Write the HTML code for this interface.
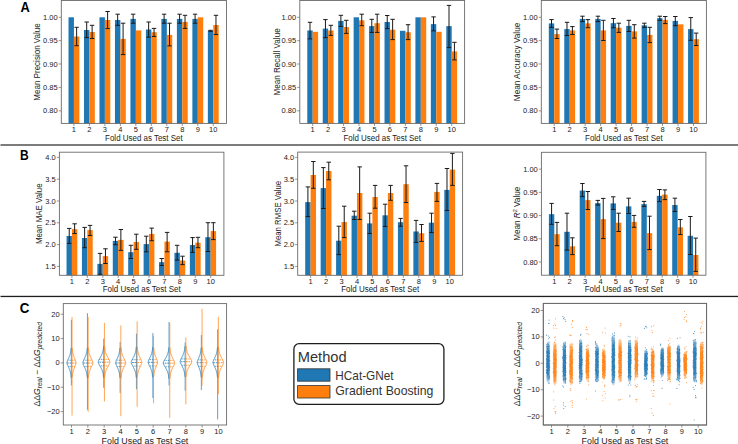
<!DOCTYPE html><html><head><meta charset="utf-8"><style>html,body{margin:0;padding:0;background:#fff;}svg{display:block;}</style></head><body>
<svg width="738" height="444" viewBox="0 0 738 444" font-family='"Liberation Sans", sans-serif' fill="#222">
<defs>
<clipPath id="clipA1"><rect x="61.3" y="0.5" width="165.2" height="122.9"/></clipPath>
<clipPath id="clipA2"><rect x="299.8" y="0.5" width="164.8" height="122.9"/></clipPath>
<clipPath id="clipA3"><rect x="541.3" y="0.5" width="165.1" height="122.9"/></clipPath>
<clipPath id="clipB1"><rect x="59.4" y="152.2" width="164.5" height="123.1"/></clipPath>
<clipPath id="clipB2"><rect x="297.7" y="152.1" width="164.9" height="123.2"/></clipPath>
<clipPath id="clipB3"><rect x="541.4" y="152.3" width="164.5" height="122.9"/></clipPath>
<clipPath id="clipC1"><rect x="63.3" y="303.6" width="163.3" height="121.4"/></clipPath>
<clipPath id="clipC3"><rect x="543.3" y="303.4" width="163.3" height="121.6"/></clipPath>
<linearGradient id="gb" x1="0" y1="0" x2="0" y2="1"><stop offset="0" stop-color="#1f77b4" stop-opacity="0.2"/><stop offset="0.1" stop-color="#1f77b4" stop-opacity="0.6"/><stop offset="0.22" stop-color="#1f77b4" stop-opacity="0.85"/><stop offset="0.78" stop-color="#1f77b4" stop-opacity="0.85"/><stop offset="0.9" stop-color="#1f77b4" stop-opacity="0.6"/><stop offset="1" stop-color="#1f77b4" stop-opacity="0.2"/></linearGradient>
<linearGradient id="go" x1="0" y1="0" x2="0" y2="1"><stop offset="0" stop-color="#ff7f0e" stop-opacity="0.2"/><stop offset="0.1" stop-color="#ff7f0e" stop-opacity="0.6"/><stop offset="0.22" stop-color="#ff7f0e" stop-opacity="0.85"/><stop offset="0.78" stop-color="#ff7f0e" stop-opacity="0.85"/><stop offset="0.9" stop-color="#ff7f0e" stop-opacity="0.6"/><stop offset="1" stop-color="#ff7f0e" stop-opacity="0.2"/></linearGradient>
</defs>
<rect width="738" height="444" fill="#fff"/>
<rect x="0.5" y="144.1" width="737.5" height="1.8" fill="#6e6e6e"/>
<rect x="0.5" y="295.8" width="737.5" height="1.3" fill="#1e1e1e"/>
<text x="20.6" y="11.9" font-size="14" font-weight="bold" fill="#000" textLength="9.3" lengthAdjust="spacingAndGlyphs">A</text>
<text x="19.9" y="160.2" font-size="14" font-weight="bold" fill="#000" textLength="8.7" lengthAdjust="spacingAndGlyphs">B</text>
<text x="19.8" y="313.4" font-size="14" font-weight="bold" fill="#000" textLength="9.6" lengthAdjust="spacingAndGlyphs">C</text>
<g clip-path="url(#clipA1)">
<rect x="68.51" y="17.3" width="5.42" height="108.1" fill="#1f77b4"/>
<rect x="73.93" y="36.5" width="5.42" height="88.9" fill="#ff7f0e"/>
<rect x="83.99" y="30" width="5.42" height="95.4" fill="#1f77b4"/>
<rect x="89.41" y="32" width="5.42" height="93.4" fill="#ff7f0e"/>
<rect x="99.47" y="17.3" width="5.42" height="108.1" fill="#1f77b4"/>
<rect x="104.89" y="20" width="5.42" height="105.4" fill="#ff7f0e"/>
<rect x="114.96" y="20" width="5.42" height="105.4" fill="#1f77b4"/>
<rect x="120.38" y="38.9" width="5.42" height="86.5" fill="#ff7f0e"/>
<rect x="130.44" y="18.9" width="5.42" height="106.5" fill="#1f77b4"/>
<rect x="135.86" y="30.4" width="5.42" height="95" fill="#ff7f0e"/>
<rect x="145.92" y="29.5" width="5.42" height="95.9" fill="#1f77b4"/>
<rect x="151.34" y="32.2" width="5.42" height="93.2" fill="#ff7f0e"/>
<rect x="161.41" y="18.9" width="5.42" height="106.5" fill="#1f77b4"/>
<rect x="166.82" y="34.9" width="5.42" height="90.5" fill="#ff7f0e"/>
<rect x="176.89" y="18.9" width="5.42" height="106.5" fill="#1f77b4"/>
<rect x="182.31" y="21.9" width="5.42" height="103.5" fill="#ff7f0e"/>
<rect x="192.37" y="18.9" width="5.42" height="106.5" fill="#1f77b4"/>
<rect x="197.79" y="17.3" width="5.42" height="108.1" fill="#ff7f0e"/>
<rect x="207.85" y="30.8" width="5.42" height="94.6" fill="#1f77b4"/>
<rect x="213.27" y="25" width="5.42" height="100.4" fill="#ff7f0e"/>
</g>
<path d="M76.64 27.3V45.7M74.44 27.3h4.4M74.44 45.7h4.4M86.7 22V37.6M84.5 22h4.4M84.5 37.6h4.4M92.12 25.3V38.5M89.92 25.3h4.4M89.92 38.5h4.4M107.6 11.5V28.6M105.4 11.5h4.4M105.4 28.6h4.4M117.67 14.2V25.4M115.47 14.2h4.4M115.47 25.4h4.4M123.09 23.2V54.6M120.89 23.2h4.4M120.89 54.6h4.4M133.15 14.2V23.2M130.95 14.2h4.4M130.95 23.2h4.4M148.63 22V37.2M146.43 22h4.4M146.43 37.2h4.4M154.05 28.4V36.5M151.85 28.4h4.4M151.85 36.5h4.4M164.11 14.2V23.2M161.91 14.2h4.4M161.91 23.2h4.4M169.53 23.2V45.9M167.33 23.2h4.4M167.33 45.9h4.4M179.6 14.2V23.2M177.4 14.2h4.4M177.4 23.2h4.4M185.02 15.3V28.4M182.82 15.3h4.4M182.82 28.4h4.4M195.08 14.2V23.2M192.88 14.2h4.4M192.88 23.2h4.4M210.56 30.3V31.3M208.36 30.3h4.4M208.36 31.3h4.4M215.98 15.3V34.5M213.78 15.3h4.4M213.78 34.5h4.4" stroke="#1a1a1a" stroke-width="1.0" fill="none"/>
<rect x="61.3" y="0.5" width="165.2" height="122.9" fill="none" stroke="#6a6a6a" stroke-width="0.9"/>
<text x="73.93" y="131.9" text-anchor="middle" font-size="7.5">1</text>
<text x="89.41" y="131.9" text-anchor="middle" font-size="7.5">2</text>
<text x="104.89" y="131.9" text-anchor="middle" font-size="7.5">3</text>
<text x="120.38" y="131.9" text-anchor="middle" font-size="7.5">4</text>
<text x="135.86" y="131.9" text-anchor="middle" font-size="7.5">5</text>
<text x="151.34" y="131.9" text-anchor="middle" font-size="7.5">6</text>
<text x="166.82" y="131.9" text-anchor="middle" font-size="7.5">7</text>
<text x="182.31" y="131.9" text-anchor="middle" font-size="7.5">8</text>
<text x="197.79" y="131.9" text-anchor="middle" font-size="7.5">9</text>
<text x="213.27" y="131.9" text-anchor="middle" font-size="7.5">10</text>
<path d="M73.93 123.4v2.6M89.41 123.4v2.6M104.89 123.4v2.6M120.38 123.4v2.6M135.86 123.4v2.6M151.34 123.4v2.6M166.82 123.4v2.6M182.31 123.4v2.6M197.79 123.4v2.6M213.27 123.4v2.6" stroke="#6a6a6a" stroke-width="0.7"/>
<text x="57.7" y="19.85" text-anchor="end" font-size="7.5">1.00</text>
<text x="57.7" y="43.2" text-anchor="end" font-size="7.5">0.95</text>
<text x="57.7" y="66.55" text-anchor="end" font-size="7.5">0.90</text>
<text x="57.7" y="89.95" text-anchor="end" font-size="7.5">0.85</text>
<text x="57.7" y="113.35" text-anchor="end" font-size="7.5">0.80</text>
<path d="M61.3 17.3h-2.6M61.3 40.65h-2.6M61.3 64h-2.6M61.3 87.4h-2.6M61.3 110.8h-2.6" stroke="#6a6a6a" stroke-width="0.7"/>
<text x="143.9" y="140.9" text-anchor="middle" font-size="8.4" textLength="77.6" lengthAdjust="spacingAndGlyphs">Fold Used as Test Set</text>
<text transform="translate(40.4 61.95) rotate(-90)" x="0" y="0" text-anchor="middle" font-size="8.4" textLength="77.5" lengthAdjust="spacingAndGlyphs">Mean Precision Value</text>
<g clip-path="url(#clipA2)">
<rect x="307.29" y="30.5" width="5.41" height="94.9" fill="#1f77b4"/>
<rect x="312.7" y="31.8" width="5.41" height="93.6" fill="#ff7f0e"/>
<rect x="322.74" y="28.6" width="5.41" height="96.8" fill="#1f77b4"/>
<rect x="328.14" y="30.5" width="5.41" height="94.9" fill="#ff7f0e"/>
<rect x="338.18" y="20.9" width="5.41" height="104.5" fill="#1f77b4"/>
<rect x="343.59" y="27" width="5.41" height="98.4" fill="#ff7f0e"/>
<rect x="353.63" y="17.3" width="5.41" height="108.1" fill="#1f77b4"/>
<rect x="359.03" y="20.3" width="5.41" height="105.1" fill="#ff7f0e"/>
<rect x="369.07" y="26.1" width="5.41" height="99.3" fill="#1f77b4"/>
<rect x="374.48" y="23.2" width="5.41" height="102.2" fill="#ff7f0e"/>
<rect x="384.52" y="22" width="5.41" height="103.4" fill="#1f77b4"/>
<rect x="389.92" y="29.7" width="5.41" height="95.7" fill="#ff7f0e"/>
<rect x="399.96" y="30.8" width="5.41" height="94.6" fill="#1f77b4"/>
<rect x="405.37" y="32.2" width="5.41" height="93.2" fill="#ff7f0e"/>
<rect x="415.41" y="17.3" width="5.41" height="108.1" fill="#1f77b4"/>
<rect x="420.81" y="17.3" width="5.41" height="108.1" fill="#ff7f0e"/>
<rect x="430.85" y="24.1" width="5.41" height="101.3" fill="#1f77b4"/>
<rect x="436.26" y="31.8" width="5.41" height="93.6" fill="#ff7f0e"/>
<rect x="446.3" y="26.1" width="5.41" height="99.3" fill="#1f77b4"/>
<rect x="451.7" y="51.4" width="5.41" height="74" fill="#ff7f0e"/>
</g>
<path d="M309.99 22.3V38.9M307.79 22.3h4.4M307.79 38.9h4.4M325.44 19.6V37.6M323.24 19.6h4.4M323.24 37.6h4.4M330.84 25.3V35.4M328.64 25.3h4.4M328.64 35.4h4.4M340.88 15.3V26.4M338.68 15.3h4.4M338.68 26.4h4.4M346.29 20.3V33.4M344.09 20.3h4.4M344.09 33.4h4.4M361.74 14.2V25.7M359.54 14.2h4.4M359.54 25.7h4.4M371.77 19.3V32.4M369.57 19.3h4.4M369.57 32.4h4.4M377.18 14.2V32.4M374.98 14.2h4.4M374.98 32.4h4.4M387.22 15.5V28.6M385.02 15.5h4.4M385.02 28.6h4.4M392.63 19.3V39.6M390.43 19.3h4.4M390.43 39.6h4.4M408.07 24.7V39.6M405.87 24.7h4.4M405.87 39.6h4.4M433.56 16.9V30.8M431.36 16.9h4.4M431.36 30.8h4.4M449 5.4V47.6M446.8 5.4h4.4M446.8 47.6h4.4M454.41 42.3V59.9M452.21 42.3h4.4M452.21 59.9h4.4" stroke="#1a1a1a" stroke-width="1.0" fill="none"/>
<rect x="299.8" y="0.5" width="164.8" height="122.9" fill="none" stroke="#6a6a6a" stroke-width="0.9"/>
<text x="312.7" y="131.9" text-anchor="middle" font-size="7.5">1</text>
<text x="328.14" y="131.9" text-anchor="middle" font-size="7.5">2</text>
<text x="343.59" y="131.9" text-anchor="middle" font-size="7.5">3</text>
<text x="359.03" y="131.9" text-anchor="middle" font-size="7.5">4</text>
<text x="374.48" y="131.9" text-anchor="middle" font-size="7.5">5</text>
<text x="389.92" y="131.9" text-anchor="middle" font-size="7.5">6</text>
<text x="405.37" y="131.9" text-anchor="middle" font-size="7.5">7</text>
<text x="420.81" y="131.9" text-anchor="middle" font-size="7.5">8</text>
<text x="436.26" y="131.9" text-anchor="middle" font-size="7.5">9</text>
<text x="451.7" y="131.9" text-anchor="middle" font-size="7.5">10</text>
<path d="M312.7 123.4v2.6M328.14 123.4v2.6M343.59 123.4v2.6M359.03 123.4v2.6M374.48 123.4v2.6M389.92 123.4v2.6M405.37 123.4v2.6M420.81 123.4v2.6M436.26 123.4v2.6M451.7 123.4v2.6" stroke="#6a6a6a" stroke-width="0.7"/>
<text x="296.2" y="19.85" text-anchor="end" font-size="7.5">1.00</text>
<text x="296.2" y="43.2" text-anchor="end" font-size="7.5">0.95</text>
<text x="296.2" y="66.55" text-anchor="end" font-size="7.5">0.90</text>
<text x="296.2" y="89.95" text-anchor="end" font-size="7.5">0.85</text>
<text x="296.2" y="113.35" text-anchor="end" font-size="7.5">0.80</text>
<path d="M299.8 17.3h-2.6M299.8 40.65h-2.6M299.8 64h-2.6M299.8 87.4h-2.6M299.8 110.8h-2.6" stroke="#6a6a6a" stroke-width="0.7"/>
<text x="382.2" y="140.9" text-anchor="middle" font-size="8.4" textLength="77.6" lengthAdjust="spacingAndGlyphs">Fold Used as Test Set</text>
<text transform="translate(279.8 61.95) rotate(-90)" x="0" y="0" text-anchor="middle" font-size="8.4" textLength="67.2" lengthAdjust="spacingAndGlyphs">Mean Recall Value</text>
<g clip-path="url(#clipA3)">
<rect x="548.8" y="23.4" width="5.42" height="102" fill="#1f77b4"/>
<rect x="554.22" y="34.1" width="5.42" height="91.3" fill="#ff7f0e"/>
<rect x="564.28" y="29.1" width="5.42" height="96.3" fill="#1f77b4"/>
<rect x="569.69" y="30.4" width="5.42" height="95" fill="#ff7f0e"/>
<rect x="579.75" y="18.9" width="5.42" height="106.5" fill="#1f77b4"/>
<rect x="585.17" y="23.4" width="5.42" height="102" fill="#ff7f0e"/>
<rect x="595.22" y="18.9" width="5.42" height="106.5" fill="#1f77b4"/>
<rect x="600.64" y="30.4" width="5.42" height="95" fill="#ff7f0e"/>
<rect x="610.7" y="23.2" width="5.42" height="102.2" fill="#1f77b4"/>
<rect x="616.11" y="27.7" width="5.42" height="97.7" fill="#ff7f0e"/>
<rect x="626.17" y="25.9" width="5.42" height="99.5" fill="#1f77b4"/>
<rect x="631.59" y="31.4" width="5.42" height="94" fill="#ff7f0e"/>
<rect x="641.64" y="25.3" width="5.42" height="100.1" fill="#1f77b4"/>
<rect x="647.06" y="34.9" width="5.42" height="90.5" fill="#ff7f0e"/>
<rect x="657.12" y="18.2" width="5.42" height="107.2" fill="#1f77b4"/>
<rect x="662.53" y="19.9" width="5.42" height="105.5" fill="#ff7f0e"/>
<rect x="672.59" y="20.9" width="5.42" height="104.5" fill="#1f77b4"/>
<rect x="678.01" y="24.3" width="5.42" height="101.1" fill="#ff7f0e"/>
<rect x="688.06" y="29.1" width="5.42" height="96.3" fill="#1f77b4"/>
<rect x="693.48" y="39.2" width="5.42" height="86.2" fill="#ff7f0e"/>
</g>
<path d="M551.51 19.6V27.4M549.31 19.6h4.4M549.31 27.4h4.4M556.93 29.1V38.5M554.73 29.1h4.4M554.73 38.5h4.4M566.99 22.3V35.5M564.79 22.3h4.4M564.79 35.5h4.4M572.4 26.6V34.5M570.2 26.6h4.4M570.2 34.5h4.4M582.46 16.2V21.6M580.26 16.2h4.4M580.26 21.6h4.4M587.87 19.6V27.7M585.67 19.6h4.4M585.67 27.7h4.4M597.93 16.2V21.6M595.73 16.2h4.4M595.73 21.6h4.4M603.35 20.3V40.5M601.15 20.3h4.4M601.15 40.5h4.4M613.41 18.5V27.7M611.21 18.5h4.4M611.21 27.7h4.4M618.82 23.2V32.4M616.62 23.2h4.4M616.62 32.4h4.4M628.88 20.3V31.5M626.68 20.3h4.4M626.68 31.5h4.4M634.29 24.7V38.1M632.09 24.7h4.4M632.09 38.1h4.4M644.35 23.2V27.4M642.15 23.2h4.4M642.15 27.4h4.4M649.77 27.3V42.6M647.57 27.3h4.4M647.57 42.6h4.4M659.83 16.2V20.3M657.63 16.2h4.4M657.63 20.3h4.4M665.24 16.5V23.6M663.04 16.5h4.4M663.04 23.6h4.4M675.3 16.5V25.7M673.1 16.5h4.4M673.1 25.7h4.4M690.77 17.6V40.3M688.57 17.6h4.4M688.57 40.3h4.4M696.19 33.1V45.5M693.99 33.1h4.4M693.99 45.5h4.4" stroke="#1a1a1a" stroke-width="1.0" fill="none"/>
<rect x="541.3" y="0.5" width="165.1" height="122.9" fill="none" stroke="#6a6a6a" stroke-width="0.9"/>
<text x="554.22" y="131.9" text-anchor="middle" font-size="7.5">1</text>
<text x="569.69" y="131.9" text-anchor="middle" font-size="7.5">2</text>
<text x="585.17" y="131.9" text-anchor="middle" font-size="7.5">3</text>
<text x="600.64" y="131.9" text-anchor="middle" font-size="7.5">4</text>
<text x="616.11" y="131.9" text-anchor="middle" font-size="7.5">5</text>
<text x="631.59" y="131.9" text-anchor="middle" font-size="7.5">6</text>
<text x="647.06" y="131.9" text-anchor="middle" font-size="7.5">7</text>
<text x="662.53" y="131.9" text-anchor="middle" font-size="7.5">8</text>
<text x="678.01" y="131.9" text-anchor="middle" font-size="7.5">9</text>
<text x="693.48" y="131.9" text-anchor="middle" font-size="7.5">10</text>
<path d="M554.22 123.4v2.6M569.69 123.4v2.6M585.17 123.4v2.6M600.64 123.4v2.6M616.11 123.4v2.6M631.59 123.4v2.6M647.06 123.4v2.6M662.53 123.4v2.6M678.01 123.4v2.6M693.48 123.4v2.6" stroke="#6a6a6a" stroke-width="0.7"/>
<text x="537.7" y="19.85" text-anchor="end" font-size="7.5">1.00</text>
<text x="537.7" y="43.2" text-anchor="end" font-size="7.5">0.95</text>
<text x="537.7" y="66.55" text-anchor="end" font-size="7.5">0.90</text>
<text x="537.7" y="89.95" text-anchor="end" font-size="7.5">0.85</text>
<text x="537.7" y="113.35" text-anchor="end" font-size="7.5">0.80</text>
<path d="M541.3 17.3h-2.6M541.3 40.65h-2.6M541.3 64h-2.6M541.3 87.4h-2.6M541.3 110.8h-2.6" stroke="#6a6a6a" stroke-width="0.7"/>
<text x="623.85" y="140.9" text-anchor="middle" font-size="8.4" textLength="77.6" lengthAdjust="spacingAndGlyphs">Fold Used as Test Set</text>
<text transform="translate(520.1 61.95) rotate(-90)" x="0" y="0" text-anchor="middle" font-size="8.4" textLength="78.4" lengthAdjust="spacingAndGlyphs">Mean Accuracy Value</text>
<g clip-path="url(#clipB1)">
<rect x="66.53" y="236" width="5.4" height="41.3" fill="#1f77b4"/>
<rect x="71.92" y="229.1" width="5.4" height="48.2" fill="#ff7f0e"/>
<rect x="81.94" y="238" width="5.4" height="39.3" fill="#1f77b4"/>
<rect x="87.34" y="230.1" width="5.4" height="47.2" fill="#ff7f0e"/>
<rect x="97.36" y="263.9" width="5.4" height="13.4" fill="#1f77b4"/>
<rect x="102.76" y="256.1" width="5.4" height="21.2" fill="#ff7f0e"/>
<rect x="112.78" y="240.9" width="5.4" height="36.4" fill="#1f77b4"/>
<rect x="118.17" y="239.9" width="5.4" height="37.4" fill="#ff7f0e"/>
<rect x="128.2" y="252.2" width="5.4" height="25.1" fill="#1f77b4"/>
<rect x="133.59" y="242" width="5.4" height="35.3" fill="#ff7f0e"/>
<rect x="143.61" y="244.1" width="5.4" height="33.2" fill="#1f77b4"/>
<rect x="149.01" y="233.9" width="5.4" height="43.4" fill="#ff7f0e"/>
<rect x="159.03" y="262.2" width="5.4" height="15.1" fill="#1f77b4"/>
<rect x="164.43" y="241.6" width="5.4" height="35.7" fill="#ff7f0e"/>
<rect x="174.45" y="252.8" width="5.4" height="24.5" fill="#1f77b4"/>
<rect x="179.84" y="260.5" width="5.4" height="16.8" fill="#ff7f0e"/>
<rect x="189.86" y="245" width="5.4" height="32.3" fill="#1f77b4"/>
<rect x="195.26" y="242.7" width="5.4" height="34.6" fill="#ff7f0e"/>
<rect x="205.28" y="237.2" width="5.4" height="40.1" fill="#1f77b4"/>
<rect x="210.68" y="231.1" width="5.4" height="46.2" fill="#ff7f0e"/>
</g>
<path d="M69.23 228.4V243.4M67.03 228.4h4.4M67.03 243.4h4.4M74.62 223.8V233.5M72.42 223.8h4.4M72.42 233.5h4.4M84.64 227.4V247.7M82.44 227.4h4.4M82.44 247.7h4.4M90.04 225.4V235.5M87.84 225.4h4.4M87.84 235.5h4.4M100.06 253.4V274.3M97.86 253.4h4.4M97.86 274.3h4.4M105.46 248.8V263.5M103.26 248.8h4.4M103.26 263.5h4.4M115.48 237.2V244.7M113.28 237.2h4.4M113.28 244.7h4.4M120.87 229.5V250.4M118.67 229.5h4.4M118.67 250.4h4.4M130.89 245.3V258.5M128.69 245.3h4.4M128.69 258.5h4.4M136.29 234.2V249.3M134.09 234.2h4.4M134.09 249.3h4.4M146.31 236.2V251.8M144.11 236.2h4.4M144.11 251.8h4.4M151.71 228.1V240.7M149.51 228.1h4.4M149.51 240.7h4.4M161.73 258.5V265.5M159.53 258.5h4.4M159.53 265.5h4.4M167.12 232.4V251.8M164.92 232.4h4.4M164.92 251.8h4.4M177.14 245.3V260.1M174.94 245.3h4.4M174.94 260.1h4.4M182.54 256.2V264.6M180.34 256.2h4.4M180.34 264.6h4.4M192.56 237.6V252.4M190.36 237.6h4.4M190.36 252.4h4.4M197.96 237.3V247.7M195.76 237.3h4.4M195.76 247.7h4.4M207.98 222.7V251.5M205.78 222.7h4.4M205.78 251.5h4.4M213.37 222.7V239.6M211.17 222.7h4.4M211.17 239.6h4.4" stroke="#1a1a1a" stroke-width="1.0" fill="none"/>
<rect x="59.4" y="152.2" width="164.5" height="123.1" fill="none" stroke="#6a6a6a" stroke-width="0.9"/>
<text x="71.92" y="283.5" text-anchor="middle" font-size="7.5">1</text>
<text x="87.34" y="283.5" text-anchor="middle" font-size="7.5">2</text>
<text x="102.76" y="283.5" text-anchor="middle" font-size="7.5">3</text>
<text x="118.17" y="283.5" text-anchor="middle" font-size="7.5">4</text>
<text x="133.59" y="283.5" text-anchor="middle" font-size="7.5">5</text>
<text x="149.01" y="283.5" text-anchor="middle" font-size="7.5">6</text>
<text x="164.43" y="283.5" text-anchor="middle" font-size="7.5">7</text>
<text x="179.84" y="283.5" text-anchor="middle" font-size="7.5">8</text>
<text x="195.26" y="283.5" text-anchor="middle" font-size="7.5">9</text>
<text x="210.68" y="283.5" text-anchor="middle" font-size="7.5">10</text>
<path d="M71.92 275.3v2.6M87.34 275.3v2.6M102.76 275.3v2.6M118.17 275.3v2.6M133.59 275.3v2.6M149.01 275.3v2.6M164.43 275.3v2.6M179.84 275.3v2.6M195.26 275.3v2.6M210.68 275.3v2.6" stroke="#6a6a6a" stroke-width="0.7"/>
<text x="55.8" y="159.95" text-anchor="end" font-size="7.5">4.0</text>
<text x="55.8" y="181.75" text-anchor="end" font-size="7.5">3.5</text>
<text x="55.8" y="203.55" text-anchor="end" font-size="7.5">3.0</text>
<text x="55.8" y="225.35" text-anchor="end" font-size="7.5">2.5</text>
<text x="55.8" y="247.15" text-anchor="end" font-size="7.5">2.0</text>
<text x="55.8" y="268.95" text-anchor="end" font-size="7.5">1.5</text>
<path d="M59.4 157.4h-2.6M59.4 179.2h-2.6M59.4 201h-2.6M59.4 222.8h-2.6M59.4 244.6h-2.6M59.4 266.4h-2.6" stroke="#6a6a6a" stroke-width="0.7"/>
<text x="141.65" y="292.3" text-anchor="middle" font-size="8.4" textLength="78" lengthAdjust="spacingAndGlyphs">Fold Used as Test Set</text>
<g clip-path="url(#clipB2)">
<rect x="305.2" y="202.1" width="5.41" height="75.2" fill="#1f77b4"/>
<rect x="310.6" y="175" width="5.41" height="102.3" fill="#ff7f0e"/>
<rect x="320.65" y="188.1" width="5.41" height="89.2" fill="#1f77b4"/>
<rect x="326.06" y="171" width="5.41" height="106.3" fill="#ff7f0e"/>
<rect x="336.1" y="240.7" width="5.41" height="36.6" fill="#1f77b4"/>
<rect x="341.51" y="222" width="5.41" height="55.3" fill="#ff7f0e"/>
<rect x="351.56" y="215.7" width="5.41" height="61.6" fill="#1f77b4"/>
<rect x="356.97" y="193" width="5.41" height="84.3" fill="#ff7f0e"/>
<rect x="367.01" y="223.4" width="5.41" height="53.9" fill="#1f77b4"/>
<rect x="372.42" y="197" width="5.41" height="80.3" fill="#ff7f0e"/>
<rect x="382.47" y="215.3" width="5.41" height="62" fill="#1f77b4"/>
<rect x="387.88" y="193" width="5.41" height="84.3" fill="#ff7f0e"/>
<rect x="397.92" y="222.2" width="5.41" height="55.1" fill="#1f77b4"/>
<rect x="403.33" y="184.2" width="5.41" height="93.1" fill="#ff7f0e"/>
<rect x="413.38" y="231.5" width="5.41" height="45.8" fill="#1f77b4"/>
<rect x="418.79" y="233.2" width="5.41" height="44.1" fill="#ff7f0e"/>
<rect x="428.83" y="222.7" width="5.41" height="54.6" fill="#1f77b4"/>
<rect x="434.24" y="191.9" width="5.41" height="85.4" fill="#ff7f0e"/>
<rect x="444.29" y="189.9" width="5.41" height="87.4" fill="#1f77b4"/>
<rect x="449.7" y="169.6" width="5.41" height="107.7" fill="#ff7f0e"/>
</g>
<path d="M307.9 186.9V216.6M305.7 186.9h4.4M305.7 216.6h4.4M313.31 161.5V188.3M311.11 161.5h4.4M311.11 188.3h4.4M323.35 167.6V208.5M321.15 167.6h4.4M321.15 208.5h4.4M328.76 162.2V179.8M326.56 162.2h4.4M326.56 179.8h4.4M338.81 226.2V254.6M336.61 226.2h4.4M336.61 254.6h4.4M344.22 206.2V237.6M342.02 206.2h4.4M342.02 237.6h4.4M354.26 211.2V219.5M352.06 211.2h4.4M352.06 219.5h4.4M359.67 166.9V219.5M357.47 166.9h4.4M357.47 219.5h4.4M369.72 213.2V233.5M367.52 213.2h4.4M367.52 233.5h4.4M375.13 185.4V208.2M372.93 185.4h4.4M372.93 208.2h4.4M385.17 204.2V226.5M382.97 204.2h4.4M382.97 226.5h4.4M390.58 185.4V200.3M388.38 185.4h4.4M388.38 200.3h4.4M400.63 218.4V226.2M398.43 218.4h4.4M398.43 226.2h4.4M406.04 165.8V202.5M403.84 165.8h4.4M403.84 202.5h4.4M416.08 220.4V242.4M413.88 220.4h4.4M413.88 242.4h4.4M421.49 224.5V241.4M419.29 224.5h4.4M419.29 241.4h4.4M431.54 213.2V232.6M429.34 213.2h4.4M429.34 232.6h4.4M436.95 183.4V201.4M434.75 183.4h4.4M434.75 201.4h4.4M446.99 168.5V210.5M444.79 168.5h4.4M444.79 210.5h4.4M452.4 153.4V185.4M450.2 153.4h4.4M450.2 185.4h4.4" stroke="#1a1a1a" stroke-width="1.0" fill="none"/>
<rect x="297.7" y="152.1" width="164.9" height="123.2" fill="none" stroke="#6a6a6a" stroke-width="0.9"/>
<text x="310.6" y="283.5" text-anchor="middle" font-size="7.5">1</text>
<text x="326.06" y="283.5" text-anchor="middle" font-size="7.5">2</text>
<text x="341.51" y="283.5" text-anchor="middle" font-size="7.5">3</text>
<text x="356.97" y="283.5" text-anchor="middle" font-size="7.5">4</text>
<text x="372.42" y="283.5" text-anchor="middle" font-size="7.5">5</text>
<text x="387.88" y="283.5" text-anchor="middle" font-size="7.5">6</text>
<text x="403.33" y="283.5" text-anchor="middle" font-size="7.5">7</text>
<text x="418.79" y="283.5" text-anchor="middle" font-size="7.5">8</text>
<text x="434.24" y="283.5" text-anchor="middle" font-size="7.5">9</text>
<text x="449.7" y="283.5" text-anchor="middle" font-size="7.5">10</text>
<path d="M310.6 275.3v2.6M326.06 275.3v2.6M341.51 275.3v2.6M356.97 275.3v2.6M372.42 275.3v2.6M387.88 275.3v2.6M403.33 275.3v2.6M418.79 275.3v2.6M434.24 275.3v2.6M449.7 275.3v2.6" stroke="#6a6a6a" stroke-width="0.7"/>
<text x="294.1" y="159.95" text-anchor="end" font-size="7.5">4.0</text>
<text x="294.1" y="181.75" text-anchor="end" font-size="7.5">3.5</text>
<text x="294.1" y="203.55" text-anchor="end" font-size="7.5">3.0</text>
<text x="294.1" y="225.35" text-anchor="end" font-size="7.5">2.5</text>
<text x="294.1" y="247.15" text-anchor="end" font-size="7.5">2.0</text>
<text x="294.1" y="268.95" text-anchor="end" font-size="7.5">1.5</text>
<path d="M297.7 157.4h-2.6M297.7 179.2h-2.6M297.7 201h-2.6M297.7 222.8h-2.6M297.7 244.6h-2.6M297.7 266.4h-2.6" stroke="#6a6a6a" stroke-width="0.7"/>
<text x="380.15" y="292.3" text-anchor="middle" font-size="8.4" textLength="78" lengthAdjust="spacingAndGlyphs">Fold Used as Test Set</text>
<g clip-path="url(#clipB3)">
<rect x="548.88" y="214.2" width="5.4" height="63" fill="#1f77b4"/>
<rect x="554.27" y="234.2" width="5.4" height="43" fill="#ff7f0e"/>
<rect x="564.29" y="231.8" width="5.4" height="45.4" fill="#1f77b4"/>
<rect x="569.69" y="246.3" width="5.4" height="30.9" fill="#ff7f0e"/>
<rect x="579.71" y="190.6" width="5.4" height="86.6" fill="#1f77b4"/>
<rect x="585.11" y="200.1" width="5.4" height="77.1" fill="#ff7f0e"/>
<rect x="595.13" y="203.1" width="5.4" height="74.1" fill="#1f77b4"/>
<rect x="600.52" y="219.1" width="5.4" height="58.1" fill="#ff7f0e"/>
<rect x="610.55" y="203.4" width="5.4" height="73.8" fill="#1f77b4"/>
<rect x="615.94" y="222.7" width="5.4" height="54.5" fill="#ff7f0e"/>
<rect x="625.96" y="206.4" width="5.4" height="70.8" fill="#1f77b4"/>
<rect x="631.36" y="221.9" width="5.4" height="55.3" fill="#ff7f0e"/>
<rect x="641.38" y="204.1" width="5.4" height="73.1" fill="#1f77b4"/>
<rect x="646.78" y="233.1" width="5.4" height="44.1" fill="#ff7f0e"/>
<rect x="656.8" y="195.8" width="5.4" height="81.4" fill="#1f77b4"/>
<rect x="662.19" y="194.6" width="5.4" height="82.6" fill="#ff7f0e"/>
<rect x="672.21" y="205" width="5.4" height="72.2" fill="#1f77b4"/>
<rect x="677.61" y="227.3" width="5.4" height="49.9" fill="#ff7f0e"/>
<rect x="687.63" y="235.8" width="5.4" height="41.4" fill="#1f77b4"/>
<rect x="693.03" y="255" width="5.4" height="22.2" fill="#ff7f0e"/>
</g>
<path d="M551.58 203.4V224.3M549.38 203.4h4.4M549.38 224.3h4.4M556.97 222.4V245.7M554.77 222.4h4.4M554.77 245.7h4.4M566.99 213.2V250.1M564.79 213.2h4.4M564.79 250.1h4.4M572.39 237.8V254.6M570.19 237.8h4.4M570.19 254.6h4.4M582.41 183.5V196.6M580.21 183.5h4.4M580.21 196.6h4.4M587.81 191.5V209.5M585.61 191.5h4.4M585.61 209.5h4.4M597.83 200.4V205.1M595.63 200.4h4.4M595.63 205.1h4.4M603.22 198.4V238.6M601.02 198.4h4.4M601.02 238.6h4.4M613.24 196.8V209.5M611.04 196.8h4.4M611.04 209.5h4.4M618.64 213.2V231.5M616.44 213.2h4.4M616.44 231.5h4.4M628.66 198.2V213.5M626.46 198.2h4.4M626.46 213.5h4.4M634.06 215.4V227.3M631.86 215.4h4.4M631.86 227.3h4.4M644.08 201.4V206.4M641.88 201.4h4.4M641.88 206.4h4.4M649.47 216.2V249.6M647.27 216.2h4.4M647.27 249.6h4.4M659.49 189.5V201.6M657.29 189.5h4.4M657.29 201.6h4.4M664.89 189.9V199.6M662.69 189.9h4.4M662.69 199.6h4.4M674.91 198.2V211.5M672.71 198.2h4.4M672.71 211.5h4.4M680.31 219.5V234.5M678.11 219.5h4.4M678.11 234.5h4.4M690.33 216.5V254.5M688.13 216.5h4.4M688.13 254.5h4.4M695.72 238.1V271.4M693.52 238.1h4.4M693.52 271.4h4.4" stroke="#1a1a1a" stroke-width="1.0" fill="none"/>
<rect x="541.4" y="152.3" width="164.5" height="122.9" fill="none" stroke="#6a6a6a" stroke-width="0.9"/>
<text x="554.27" y="283.5" text-anchor="middle" font-size="7.5">1</text>
<text x="569.69" y="283.5" text-anchor="middle" font-size="7.5">2</text>
<text x="585.11" y="283.5" text-anchor="middle" font-size="7.5">3</text>
<text x="600.52" y="283.5" text-anchor="middle" font-size="7.5">4</text>
<text x="615.94" y="283.5" text-anchor="middle" font-size="7.5">5</text>
<text x="631.36" y="283.5" text-anchor="middle" font-size="7.5">6</text>
<text x="646.78" y="283.5" text-anchor="middle" font-size="7.5">7</text>
<text x="662.19" y="283.5" text-anchor="middle" font-size="7.5">8</text>
<text x="677.61" y="283.5" text-anchor="middle" font-size="7.5">9</text>
<text x="693.03" y="283.5" text-anchor="middle" font-size="7.5">10</text>
<path d="M554.27 275.2v2.6M569.69 275.2v2.6M585.11 275.2v2.6M600.52 275.2v2.6M615.94 275.2v2.6M631.36 275.2v2.6M646.78 275.2v2.6M662.19 275.2v2.6M677.61 275.2v2.6M693.03 275.2v2.6" stroke="#6a6a6a" stroke-width="0.7"/>
<text x="537.8" y="171.75" text-anchor="end" font-size="7.5">1.00</text>
<text x="537.8" y="194.95" text-anchor="end" font-size="7.5">0.95</text>
<text x="537.8" y="218.15" text-anchor="end" font-size="7.5">0.90</text>
<text x="537.8" y="241.35" text-anchor="end" font-size="7.5">0.85</text>
<text x="537.8" y="264.55" text-anchor="end" font-size="7.5">0.80</text>
<path d="M541.4 169.2h-2.6M541.4 192.4h-2.6M541.4 215.6h-2.6M541.4 238.8h-2.6M541.4 262h-2.6" stroke="#6a6a6a" stroke-width="0.7"/>
<text x="623.65" y="292.3" text-anchor="middle" font-size="8.4" textLength="78" lengthAdjust="spacingAndGlyphs">Fold Used as Test Set</text>
<text transform="translate(42.4 213.75) rotate(-90)" x="0" y="0" text-anchor="middle" font-size="8.4" textLength="60.6" lengthAdjust="spacingAndGlyphs">Mean MAE Value</text>
<text transform="translate(280.9 213.7) rotate(-90)" x="0" y="0" text-anchor="middle" font-size="8.4" textLength="65.8" lengthAdjust="spacingAndGlyphs">Mean RMSE Value</text>
<text transform="translate(520.4 213.75) rotate(-90)" text-anchor="middle" font-size="8.4" textLength="54" lengthAdjust="spacingAndGlyphs">Mean <tspan font-style="italic">R</tspan><tspan font-size="5.6" dy="-3">2</tspan><tspan dy="3"> Value</tspan></text>
<rect x="63.3" y="303.6" width="163.3" height="121.4" fill="none" stroke="#6a6a6a" stroke-width="0.9"/>
<text x="71.5" y="433.8" text-anchor="middle" font-size="7.5">1</text>
<text x="87.83" y="433.8" text-anchor="middle" font-size="7.5">2</text>
<text x="104.16" y="433.8" text-anchor="middle" font-size="7.5">3</text>
<text x="120.49" y="433.8" text-anchor="middle" font-size="7.5">4</text>
<text x="136.82" y="433.8" text-anchor="middle" font-size="7.5">5</text>
<text x="153.15" y="433.8" text-anchor="middle" font-size="7.5">6</text>
<text x="169.48" y="433.8" text-anchor="middle" font-size="7.5">7</text>
<text x="185.81" y="433.8" text-anchor="middle" font-size="7.5">8</text>
<text x="202.14" y="433.8" text-anchor="middle" font-size="7.5">9</text>
<text x="218.47" y="433.8" text-anchor="middle" font-size="7.5">10</text>
<path d="M71.5 425v2.6M87.83 425v2.6M104.16 425v2.6M120.49 425v2.6M136.82 425v2.6M153.15 425v2.6M169.48 425v2.6M185.81 425v2.6M202.14 425v2.6M218.47 425v2.6" stroke="#6a6a6a" stroke-width="0.7"/>
<text x="59.7" y="316.75" text-anchor="end" font-size="7.5">20</text>
<text x="59.7" y="341.1" text-anchor="end" font-size="7.5">10</text>
<text x="59.7" y="365.45" text-anchor="end" font-size="7.5">0</text>
<text x="59.7" y="389.8" text-anchor="end" font-size="7.5">−10</text>
<text x="59.7" y="414.15" text-anchor="end" font-size="7.5">−20</text>
<path d="M63.3 314.2h-2.6M63.3 338.55h-2.6M63.3 362.9h-2.6M63.3 387.25h-2.6M63.3 411.6h-2.6" stroke="#6a6a6a" stroke-width="0.7"/>
<text x="144.95" y="443.9" text-anchor="middle" font-size="8.9" textLength="86.7" lengthAdjust="spacingAndGlyphs">Fold Used as Test Set</text>
<path d="M71.35 348.01L71.15 348.01L71.12 348.38L71.09 348.75L71.06 349.12L71.03 349.49L70.99 349.86L70.94 350.23L70.9 350.6L70.84 350.97L70.79 351.34L70.72 351.71L70.66 352.08L70.58 352.45L70.5 352.82L70.42 353.19L70.32 353.56L70.22 353.93L70.12 354.3L70.01 354.67L69.89 355.04L69.76 355.41L69.63 355.78L69.49 356.15L69.34 356.52L69.19 356.89L69.03 357.26L68.87 357.63L68.71 357.99L68.54 358.36L68.37 358.73L68.2 359.1L68.03 359.47L67.87 359.84L67.7 360.21L67.55 360.58L67.4 360.95L67.27 361.32L67.15 361.69L67.05 362.06L66.98 362.43L66.94 362.8L66.98 363.17L67.05 363.54L67.15 363.91L67.27 364.28L67.4 364.65L67.55 365.02L67.7 365.39L67.87 365.76L68.03 366.13L68.2 366.5L68.37 366.87L68.54 367.24L68.71 367.61L68.87 367.97L69.03 368.34L69.19 368.71L69.34 369.08L69.49 369.45L69.63 369.82L69.76 370.19L69.89 370.56L70.01 370.93L70.12 371.3L70.22 371.67L70.32 372.04L70.42 372.41L70.5 372.78L70.58 373.15L70.66 373.52L70.72 373.89L70.79 374.26L70.84 374.63L70.9 375L70.94 375.37L70.99 375.74L71.03 376.11L71.06 376.48L71.09 376.85L71.12 377.22L71.15 377.59L71.35 377.59" fill="none" stroke="#1f77b4" stroke-width="0.8" stroke-linejoin="round"/>
<path d="M71.35 319.9V385.4" stroke="#1f77b4" stroke-width="0.7"/>
<path d="M71.35 360.2H67.71" stroke="#1f77b4" stroke-width="0.8" stroke-dasharray="1 0.8"/>
<path d="M71.35 363H66.95" stroke="#1f77b4" stroke-width="0.8" stroke-dasharray="1.8 0.8"/>
<path d="M71.35 366.6H68.25" stroke="#1f77b4" stroke-width="0.8" stroke-dasharray="1 0.8"/>
<path d="M72.05 348.34L72.25 348.34L72.28 348.7L72.3 349.06L72.33 349.42L72.37 349.78L72.41 350.15L72.45 350.51L72.49 350.87L72.54 351.23L72.59 351.59L72.65 351.95L72.71 352.32L72.78 352.68L72.86 353.04L72.93 353.4L73.02 353.76L73.11 354.12L73.21 354.48L73.31 354.85L73.42 355.21L73.53 355.57L73.65 355.93L73.77 356.29L73.9 356.65L74.04 357.02L74.18 357.38L74.32 357.74L74.47 358.1L74.61 358.46L74.76 358.82L74.91 359.18L75.06 359.55L75.2 359.91L75.35 360.27L75.48 360.63L75.61 360.99L75.72 361.35L75.83 361.72L75.91 362.08L75.98 362.44L76.01 362.8L75.98 363.16L75.91 363.52L75.83 363.88L75.72 364.25L75.61 364.61L75.48 364.97L75.35 365.33L75.2 365.69L75.06 366.05L74.91 366.42L74.76 366.78L74.61 367.14L74.47 367.5L74.32 367.86L74.18 368.22L74.04 368.58L73.9 368.95L73.77 369.31L73.65 369.67L73.53 370.03L73.42 370.39L73.31 370.75L73.21 371.12L73.11 371.48L73.02 371.84L72.93 372.2L72.86 372.56L72.78 372.92L72.71 373.28L72.65 373.65L72.59 374.01L72.54 374.37L72.49 374.73L72.45 375.09L72.41 375.45L72.37 375.82L72.33 376.18L72.3 376.54L72.28 376.9L72.25 377.26L72.05 377.26" fill="none" stroke="#ff7f0e" stroke-width="0.8" stroke-linejoin="round"/>
<path d="M72.05 317V415.6" stroke="#ff7f0e" stroke-width="0.7"/>
<path d="M72.05 360.2H75.32" stroke="#ff7f0e" stroke-width="0.8" stroke-dasharray="1 0.8"/>
<path d="M72.05 363H76" stroke="#ff7f0e" stroke-width="0.8" stroke-dasharray="1.8 0.8"/>
<path d="M72.05 366.6H74.84" stroke="#ff7f0e" stroke-width="0.8" stroke-dasharray="1 0.8"/>
<path d="M87.45 347.9L87.25 347.9L87.22 348.27L87.19 348.64L87.16 349.01L87.12 349.39L87.08 349.76L87.04 350.13L86.99 350.5L86.94 350.88L86.88 351.25L86.81 351.62L86.74 351.99L86.67 352.37L86.59 352.74L86.5 353.11L86.4 353.48L86.3 353.86L86.19 354.23L86.07 354.6L85.95 354.97L85.82 355.35L85.68 355.72L85.53 356.09L85.38 356.47L85.22 356.84L85.06 357.21L84.89 357.58L84.72 357.96L84.54 358.33L84.36 358.7L84.19 359.07L84.01 359.45L83.83 359.82L83.66 360.19L83.5 360.56L83.35 360.94L83.21 361.31L83.08 361.68L82.98 362.05L82.9 362.43L82.86 362.8L82.9 363.17L82.98 363.55L83.08 363.92L83.21 364.29L83.35 364.66L83.5 365.04L83.66 365.41L83.83 365.78L84.01 366.15L84.19 366.53L84.36 366.9L84.54 367.27L84.72 367.64L84.89 368.02L85.06 368.39L85.22 368.76L85.38 369.13L85.53 369.51L85.68 369.88L85.82 370.25L85.95 370.63L86.07 371L86.19 371.37L86.3 371.74L86.4 372.12L86.5 372.49L86.59 372.86L86.67 373.23L86.74 373.61L86.81 373.98L86.88 374.35L86.94 374.72L86.99 375.1L87.04 375.47L87.08 375.84L87.12 376.21L87.16 376.59L87.19 376.96L87.22 377.33L87.25 377.7L87.45 377.7" fill="none" stroke="#1f77b4" stroke-width="0.8" stroke-linejoin="round"/>
<path d="M87.45 313.2V409.7" stroke="#1f77b4" stroke-width="0.7"/>
<path d="M87.45 360.2H83.66" stroke="#1f77b4" stroke-width="0.8" stroke-dasharray="1 0.8"/>
<path d="M87.45 363H82.87" stroke="#1f77b4" stroke-width="0.8" stroke-dasharray="1.8 0.8"/>
<path d="M87.45 366.6H84.22" stroke="#1f77b4" stroke-width="0.8" stroke-dasharray="1 0.8"/>
<path d="M88.15 347.78L88.35 347.78L88.38 348.16L88.41 348.53L88.44 348.91L88.48 349.28L88.52 349.66L88.56 350.03L88.61 350.41L88.67 350.78L88.73 351.16L88.79 351.54L88.87 351.91L88.94 352.29L89.03 352.66L89.12 353.04L89.22 353.41L89.33 353.79L89.44 354.16L89.56 354.54L89.69 354.92L89.83 355.29L89.97 355.67L90.12 356.04L90.28 356.42L90.44 356.79L90.61 357.17L90.79 357.54L90.97 357.92L91.16 358.29L91.34 358.67L91.53 359.05L91.71 359.42L91.9 359.8L92.07 360.17L92.25 360.55L92.41 360.92L92.55 361.3L92.69 361.67L92.8 362.05L92.88 362.42L92.92 362.8L92.88 363.18L92.8 363.55L92.69 363.93L92.55 364.3L92.41 364.68L92.25 365.05L92.07 365.43L91.9 365.8L91.71 366.18L91.53 366.55L91.34 366.93L91.16 367.31L90.97 367.68L90.79 368.06L90.61 368.43L90.44 368.81L90.28 369.18L90.12 369.56L89.97 369.93L89.83 370.31L89.69 370.68L89.56 371.06L89.44 371.44L89.33 371.81L89.22 372.19L89.12 372.56L89.03 372.94L88.94 373.31L88.87 373.69L88.79 374.06L88.73 374.44L88.67 374.82L88.61 375.19L88.56 375.57L88.52 375.94L88.48 376.32L88.44 376.69L88.41 377.07L88.38 377.44L88.35 377.82L88.15 377.82" fill="none" stroke="#ff7f0e" stroke-width="0.8" stroke-linejoin="round"/>
<path d="M88.15 317V411.8" stroke="#ff7f0e" stroke-width="0.7"/>
<path d="M88.15 360.2H92.09" stroke="#ff7f0e" stroke-width="0.8" stroke-dasharray="1 0.8"/>
<path d="M88.15 363H92.9" stroke="#ff7f0e" stroke-width="0.8" stroke-dasharray="1.8 0.8"/>
<path d="M88.15 366.6H91.51" stroke="#ff7f0e" stroke-width="0.8" stroke-dasharray="1 0.8"/>
<path d="M103.75 346.57L103.55 346.57L103.52 346.95L103.49 347.34L103.46 347.73L103.42 348.11L103.37 348.5L103.32 348.88L103.27 349.27L103.21 349.65L103.14 350.04L103.07 350.43L102.99 350.81L102.91 351.2L102.81 351.58L102.71 351.97L102.6 352.36L102.48 352.74L102.35 353.13L102.21 353.51L102.07 353.9L101.91 354.28L101.74 354.67L101.57 355.06L101.39 355.44L101.19 355.83L101 356.21L100.79 356.6L100.58 356.98L100.36 357.37L100.14 357.76L99.92 358.14L99.7 358.53L99.48 358.91L99.27 359.3L99.07 359.69L98.88 360.07L98.7 360.46L98.54 360.84L98.41 361.23L98.31 361.61L98.26 362L98.31 362.39L98.41 362.77L98.54 363.16L98.7 363.54L98.88 363.93L99.07 364.31L99.27 364.7L99.48 365.09L99.7 365.47L99.92 365.86L100.14 366.24L100.36 366.63L100.58 367.02L100.79 367.4L101 367.79L101.19 368.17L101.39 368.56L101.57 368.94L101.74 369.33L101.91 369.72L102.07 370.1L102.21 370.49L102.35 370.87L102.48 371.26L102.6 371.64L102.71 372.03L102.81 372.42L102.91 372.8L102.99 373.19L103.07 373.57L103.14 373.96L103.21 374.35L103.27 374.73L103.32 375.12L103.37 375.5L103.42 375.89L103.46 376.27L103.49 376.66L103.52 377.05L103.55 377.43L103.75 377.43" fill="none" stroke="#1f77b4" stroke-width="0.8" stroke-linejoin="round"/>
<path d="M103.75 338.6V387.8" stroke="#1f77b4" stroke-width="0.7"/>
<path d="M103.75 359.4H99.22" stroke="#1f77b4" stroke-width="0.8" stroke-dasharray="1 0.8"/>
<path d="M103.75 362.2H98.28" stroke="#1f77b4" stroke-width="0.8" stroke-dasharray="1.8 0.8"/>
<path d="M103.75 365.8H99.89" stroke="#1f77b4" stroke-width="0.8" stroke-dasharray="1 0.8"/>
<path d="M104.45 346.57L104.65 346.57L104.68 346.95L104.71 347.34L104.74 347.73L104.78 348.11L104.83 348.5L104.88 348.88L104.93 349.27L104.99 349.65L105.06 350.04L105.13 350.43L105.21 350.81L105.29 351.2L105.39 351.58L105.49 351.97L105.6 352.36L105.72 352.74L105.85 353.13L105.99 353.51L106.13 353.9L106.29 354.28L106.46 354.67L106.63 355.06L106.81 355.44L107.01 355.83L107.2 356.21L107.41 356.6L107.62 356.98L107.84 357.37L108.06 357.76L108.28 358.14L108.5 358.53L108.72 358.91L108.93 359.3L109.13 359.69L109.32 360.07L109.5 360.46L109.66 360.84L109.79 361.23L109.89 361.61L109.94 362L109.89 362.39L109.79 362.77L109.66 363.16L109.5 363.54L109.32 363.93L109.13 364.31L108.93 364.7L108.72 365.09L108.5 365.47L108.28 365.86L108.06 366.24L107.84 366.63L107.62 367.02L107.41 367.4L107.2 367.79L107.01 368.17L106.81 368.56L106.63 368.94L106.46 369.33L106.29 369.72L106.13 370.1L105.99 370.49L105.85 370.87L105.72 371.26L105.6 371.64L105.49 372.03L105.39 372.42L105.29 372.8L105.21 373.19L105.13 373.57L105.06 373.96L104.99 374.35L104.93 374.73L104.88 375.12L104.83 375.5L104.78 375.89L104.74 376.27L104.71 376.66L104.68 377.05L104.65 377.43L104.45 377.43" fill="none" stroke="#ff7f0e" stroke-width="0.8" stroke-linejoin="round"/>
<path d="M104.45 322.8V401.5" stroke="#ff7f0e" stroke-width="0.7"/>
<path d="M104.45 359.4H108.98" stroke="#ff7f0e" stroke-width="0.8" stroke-dasharray="1 0.8"/>
<path d="M104.45 362.2H109.92" stroke="#ff7f0e" stroke-width="0.8" stroke-dasharray="1.8 0.8"/>
<path d="M104.45 365.8H108.31" stroke="#ff7f0e" stroke-width="0.8" stroke-dasharray="1 0.8"/>
<path d="M120.15 347.95L119.95 347.95L119.92 348.33L119.89 348.7L119.86 349.07L119.83 349.44L119.79 349.81L119.74 350.18L119.69 350.55L119.64 350.92L119.58 351.29L119.52 351.67L119.45 352.04L119.38 352.41L119.29 352.78L119.21 353.15L119.11 353.52L119.01 353.89L118.9 354.26L118.79 354.63L118.67 355.01L118.54 355.38L118.4 355.75L118.26 356.12L118.11 356.49L117.96 356.86L117.8 357.23L117.63 357.6L117.46 357.98L117.29 358.35L117.12 358.72L116.94 359.09L116.77 359.46L116.6 359.83L116.43 360.2L116.28 360.57L116.13 360.94L115.99 361.32L115.87 361.69L115.76 362.06L115.69 362.43L115.65 362.8L115.69 363.17L115.76 363.54L115.87 363.91L115.99 364.28L116.13 364.66L116.28 365.03L116.43 365.4L116.6 365.77L116.77 366.14L116.94 366.51L117.12 366.88L117.29 367.25L117.46 367.62L117.63 368L117.8 368.37L117.96 368.74L118.11 369.11L118.26 369.48L118.4 369.85L118.54 370.22L118.67 370.59L118.79 370.97L118.9 371.34L119.01 371.71L119.11 372.08L119.21 372.45L119.29 372.82L119.38 373.19L119.45 373.56L119.52 373.93L119.58 374.31L119.64 374.68L119.69 375.05L119.74 375.42L119.79 375.79L119.83 376.16L119.86 376.53L119.89 376.9L119.92 377.27L119.95 377.65L120.15 377.65" fill="none" stroke="#1f77b4" stroke-width="0.8" stroke-linejoin="round"/>
<path d="M120.15 341.8V393" stroke="#1f77b4" stroke-width="0.7"/>
<path d="M120.15 360.2H116.44" stroke="#1f77b4" stroke-width="0.8" stroke-dasharray="1 0.8"/>
<path d="M120.15 363H115.66" stroke="#1f77b4" stroke-width="0.8" stroke-dasharray="1.8 0.8"/>
<path d="M120.15 366.6H116.98" stroke="#1f77b4" stroke-width="0.8" stroke-dasharray="1 0.8"/>
<path d="M120.85 347.73L121.05 347.73L121.08 348.1L121.11 348.48L121.14 348.86L121.18 349.23L121.22 349.61L121.27 349.99L121.32 350.36L121.37 350.74L121.43 351.12L121.5 351.49L121.57 351.87L121.65 352.25L121.74 352.62L121.83 353L121.93 353.38L122.04 353.76L122.15 354.13L122.28 354.51L122.41 354.89L122.55 355.26L122.69 355.64L122.85 356.02L123.01 356.39L123.18 356.77L123.35 357.15L123.53 357.52L123.72 357.9L123.9 358.28L124.09 358.65L124.28 359.03L124.47 359.41L124.66 359.79L124.84 360.16L125.02 360.54L125.18 360.92L125.34 361.29L125.47 361.67L125.58 362.05L125.67 362.42L125.71 362.8L125.67 363.18L125.58 363.55L125.47 363.93L125.34 364.31L125.18 364.68L125.02 365.06L124.84 365.44L124.66 365.81L124.47 366.19L124.28 366.57L124.09 366.95L123.9 367.32L123.72 367.7L123.53 368.08L123.35 368.45L123.18 368.83L123.01 369.21L122.85 369.58L122.69 369.96L122.55 370.34L122.41 370.71L122.28 371.09L122.15 371.47L122.04 371.84L121.93 372.22L121.83 372.6L121.74 372.98L121.65 373.35L121.57 373.73L121.5 374.11L121.43 374.48L121.37 374.86L121.32 375.24L121.27 375.61L121.22 375.99L121.18 376.37L121.14 376.74L121.11 377.12L121.08 377.5L121.05 377.87L120.85 377.87" fill="none" stroke="#ff7f0e" stroke-width="0.8" stroke-linejoin="round"/>
<path d="M120.85 325.5V416.2" stroke="#ff7f0e" stroke-width="0.7"/>
<path d="M120.85 360.2H124.86" stroke="#ff7f0e" stroke-width="0.8" stroke-dasharray="1 0.8"/>
<path d="M120.85 363H125.69" stroke="#ff7f0e" stroke-width="0.8" stroke-dasharray="1.8 0.8"/>
<path d="M120.85 366.6H124.27" stroke="#ff7f0e" stroke-width="0.8" stroke-dasharray="1 0.8"/>
<path d="M136.45 347.02L136.25 347.02L136.22 347.4L136.19 347.78L136.16 348.16L136.12 348.54L136.08 348.93L136.03 349.31L135.98 349.69L135.92 350.07L135.85 350.45L135.78 350.84L135.71 351.22L135.62 351.6L135.53 351.98L135.43 352.37L135.33 352.75L135.21 353.13L135.09 353.51L134.96 353.89L134.82 354.28L134.67 354.66L134.51 355.04L134.35 355.42L134.17 355.8L133.99 356.19L133.8 356.57L133.61 356.95L133.41 357.33L133.2 357.71L133 358.1L132.79 358.48L132.58 358.86L132.38 359.24L132.18 359.63L131.99 360.01L131.81 360.39L131.64 360.77L131.49 361.15L131.37 361.54L131.28 361.92L131.23 362.3L131.28 362.68L131.37 363.06L131.49 363.45L131.64 363.83L131.81 364.21L131.99 364.59L132.18 364.97L132.38 365.36L132.58 365.74L132.79 366.12L133 366.5L133.2 366.89L133.41 367.27L133.61 367.65L133.8 368.03L133.99 368.41L134.17 368.8L134.35 369.18L134.51 369.56L134.67 369.94L134.82 370.32L134.96 370.71L135.09 371.09L135.21 371.47L135.33 371.85L135.43 372.23L135.53 372.62L135.62 373L135.71 373.38L135.78 373.76L135.85 374.15L135.92 374.53L135.98 374.91L136.03 375.29L136.08 375.67L136.12 376.06L136.16 376.44L136.19 376.82L136.22 377.2L136.25 377.58L136.45 377.58" fill="none" stroke="#1f77b4" stroke-width="0.8" stroke-linejoin="round"/>
<path d="M136.45 333.6V389.2" stroke="#1f77b4" stroke-width="0.7"/>
<path d="M136.45 359.7H132.14" stroke="#1f77b4" stroke-width="0.8" stroke-dasharray="1 0.8"/>
<path d="M136.45 362.5H131.25" stroke="#1f77b4" stroke-width="0.8" stroke-dasharray="1.8 0.8"/>
<path d="M136.45 366.1H132.78" stroke="#1f77b4" stroke-width="0.8" stroke-dasharray="1 0.8"/>
<path d="M137.15 347.34L137.35 347.34L137.38 347.71L137.41 348.09L137.44 348.46L137.48 348.83L137.52 349.21L137.56 349.58L137.61 349.96L137.67 350.33L137.72 350.7L137.79 351.08L137.86 351.45L137.94 351.83L138.02 352.2L138.11 352.57L138.21 352.95L138.31 353.32L138.42 353.7L138.54 354.07L138.67 354.44L138.8 354.82L138.95 355.19L139.09 355.57L139.25 355.94L139.41 356.32L139.58 356.69L139.75 357.06L139.93 357.44L140.11 357.81L140.29 358.19L140.47 358.56L140.65 358.93L140.83 359.31L141.01 359.68L141.17 360.06L141.33 360.43L141.47 360.8L141.6 361.18L141.71 361.55L141.79 361.93L141.83 362.3L141.79 362.67L141.71 363.05L141.6 363.42L141.47 363.8L141.33 364.17L141.17 364.54L141.01 364.92L140.83 365.29L140.65 365.67L140.47 366.04L140.29 366.41L140.11 366.79L139.93 367.16L139.75 367.54L139.58 367.91L139.41 368.28L139.25 368.66L139.09 369.03L138.95 369.41L138.8 369.78L138.67 370.16L138.54 370.53L138.42 370.9L138.31 371.28L138.21 371.65L138.11 372.03L138.02 372.4L137.94 372.77L137.86 373.15L137.79 373.52L137.72 373.9L137.67 374.27L137.61 374.64L137.56 375.02L137.52 375.39L137.48 375.77L137.44 376.14L137.41 376.51L137.38 376.89L137.35 377.26L137.15 377.26" fill="none" stroke="#ff7f0e" stroke-width="0.8" stroke-linejoin="round"/>
<path d="M137.15 321.4V406.8" stroke="#ff7f0e" stroke-width="0.7"/>
<path d="M137.15 359.7H141.01" stroke="#ff7f0e" stroke-width="0.8" stroke-dasharray="1 0.8"/>
<path d="M137.15 362.5H141.82" stroke="#ff7f0e" stroke-width="0.8" stroke-dasharray="1.8 0.8"/>
<path d="M137.15 366.1H140.44" stroke="#ff7f0e" stroke-width="0.8" stroke-dasharray="1 0.8"/>
<path d="M152.85 347.24L152.65 347.24L152.62 347.61L152.59 347.99L152.56 348.36L152.52 348.73L152.48 349.11L152.44 349.48L152.39 349.86L152.33 350.23L152.28 350.6L152.21 350.98L152.14 351.35L152.06 351.73L151.98 352.1L151.89 352.47L151.79 352.85L151.69 353.22L151.58 353.6L151.46 353.97L151.33 354.34L151.2 354.72L151.05 355.09L150.91 355.47L150.75 355.84L150.59 356.22L150.42 356.59L150.25 356.96L150.07 357.34L149.89 357.71L149.71 358.09L149.53 358.46L149.35 358.83L149.17 359.21L148.99 359.58L148.83 359.96L148.67 360.33L148.53 360.7L148.4 361.08L148.29 361.45L148.21 361.83L148.17 362.2L148.21 362.57L148.29 362.95L148.4 363.32L148.53 363.7L148.67 364.07L148.83 364.44L148.99 364.82L149.17 365.19L149.35 365.57L149.53 365.94L149.71 366.31L149.89 366.69L150.07 367.06L150.25 367.44L150.42 367.81L150.59 368.18L150.75 368.56L150.91 368.93L151.05 369.31L151.2 369.68L151.33 370.06L151.46 370.43L151.58 370.8L151.69 371.18L151.79 371.55L151.89 371.93L151.98 372.3L152.06 372.67L152.14 373.05L152.21 373.42L152.28 373.8L152.33 374.17L152.39 374.54L152.44 374.92L152.48 375.29L152.52 375.67L152.56 376.04L152.59 376.41L152.62 376.79L152.65 377.16L152.85 377.16" fill="none" stroke="#1f77b4" stroke-width="0.8" stroke-linejoin="round"/>
<path d="M152.85 333.1V398" stroke="#1f77b4" stroke-width="0.7"/>
<path d="M152.85 359.6H148.99" stroke="#1f77b4" stroke-width="0.8" stroke-dasharray="1 0.8"/>
<path d="M152.85 362.4H148.18" stroke="#1f77b4" stroke-width="0.8" stroke-dasharray="1.8 0.8"/>
<path d="M152.85 366H149.56" stroke="#1f77b4" stroke-width="0.8" stroke-dasharray="1 0.8"/>
<path d="M153.55 347.74L153.75 347.74L153.78 348.1L153.8 348.46L153.83 348.82L153.87 349.18L153.91 349.55L153.95 349.91L153.99 350.27L154.04 350.63L154.09 350.99L154.15 351.35L154.21 351.72L154.28 352.08L154.36 352.44L154.43 352.8L154.52 353.16L154.61 353.52L154.71 353.88L154.81 354.25L154.92 354.61L155.03 354.97L155.15 355.33L155.27 355.69L155.4 356.05L155.54 356.42L155.68 356.78L155.82 357.14L155.97 357.5L156.11 357.86L156.26 358.22L156.41 358.58L156.56 358.95L156.7 359.31L156.85 359.67L156.98 360.03L157.11 360.39L157.22 360.75L157.33 361.12L157.41 361.48L157.48 361.84L157.51 362.2L157.48 362.56L157.41 362.92L157.33 363.28L157.22 363.65L157.11 364.01L156.98 364.37L156.85 364.73L156.7 365.09L156.56 365.45L156.41 365.82L156.26 366.18L156.11 366.54L155.97 366.9L155.82 367.26L155.68 367.62L155.54 367.98L155.4 368.35L155.27 368.71L155.15 369.07L155.03 369.43L154.92 369.79L154.81 370.15L154.71 370.52L154.61 370.88L154.52 371.24L154.43 371.6L154.36 371.96L154.28 372.32L154.21 372.68L154.15 373.05L154.09 373.41L154.04 373.77L153.99 374.13L153.95 374.49L153.91 374.85L153.87 375.22L153.83 375.58L153.8 375.94L153.78 376.3L153.75 376.66L153.55 376.66" fill="none" stroke="#ff7f0e" stroke-width="0.8" stroke-linejoin="round"/>
<path d="M153.55 335.7V403.3" stroke="#ff7f0e" stroke-width="0.7"/>
<path d="M153.55 359.6H156.82" stroke="#ff7f0e" stroke-width="0.8" stroke-dasharray="1 0.8"/>
<path d="M153.55 362.4H157.5" stroke="#ff7f0e" stroke-width="0.8" stroke-dasharray="1.8 0.8"/>
<path d="M153.55 366H156.34" stroke="#ff7f0e" stroke-width="0.8" stroke-dasharray="1 0.8"/>
<path d="M169.05 347.43L168.85 347.43L168.82 347.82L168.79 348.21L168.75 348.6L168.71 348.99L168.67 349.38L168.62 349.76L168.56 350.15L168.5 350.54L168.43 350.93L168.36 351.32L168.28 351.71L168.19 352.1L168.09 352.49L167.98 352.88L167.87 353.27L167.74 353.66L167.61 354.05L167.47 354.44L167.31 354.83L167.15 355.21L166.98 355.6L166.79 355.99L166.6 356.38L166.4 356.77L166.19 357.16L165.97 357.55L165.75 357.94L165.52 358.33L165.29 358.72L165.05 359.11L164.82 359.5L164.59 359.89L164.37 360.28L164.15 360.66L163.94 361.05L163.76 361.44L163.59 361.83L163.45 362.22L163.34 362.61L163.29 363L163.34 363.39L163.45 363.78L163.59 364.17L163.76 364.56L163.94 364.95L164.15 365.34L164.37 365.72L164.59 366.11L164.82 366.5L165.05 366.89L165.29 367.28L165.52 367.67L165.75 368.06L165.97 368.45L166.19 368.84L166.4 369.23L166.6 369.62L166.79 370.01L166.98 370.4L167.15 370.79L167.31 371.17L167.47 371.56L167.61 371.95L167.74 372.34L167.87 372.73L167.98 373.12L168.09 373.51L168.19 373.9L168.28 374.29L168.36 374.68L168.43 375.07L168.5 375.46L168.56 375.85L168.62 376.24L168.67 376.62L168.71 377.01L168.75 377.4L168.79 377.79L168.82 378.18L168.85 378.57L169.05 378.57" fill="none" stroke="#1f77b4" stroke-width="0.8" stroke-linejoin="round"/>
<path d="M169.05 322V385.4" stroke="#1f77b4" stroke-width="0.7"/>
<path d="M169.05 360.4H164.29" stroke="#1f77b4" stroke-width="0.8" stroke-dasharray="1 0.8"/>
<path d="M169.05 363.2H163.31" stroke="#1f77b4" stroke-width="0.8" stroke-dasharray="1.8 0.8"/>
<path d="M169.05 366.8H165" stroke="#1f77b4" stroke-width="0.8" stroke-dasharray="1 0.8"/>
<path d="M169.75 347.93L169.95 347.93L169.98 348.3L170.01 348.68L170.04 349.06L170.08 349.43L170.12 349.81L170.17 350.19L170.22 350.56L170.27 350.94L170.33 351.32L170.4 351.69L170.47 352.07L170.55 352.45L170.64 352.82L170.73 353.2L170.83 353.58L170.94 353.96L171.05 354.33L171.18 354.71L171.31 355.09L171.45 355.46L171.59 355.84L171.75 356.22L171.91 356.59L172.08 356.97L172.25 357.35L172.43 357.72L172.62 358.1L172.8 358.48L172.99 358.85L173.18 359.23L173.37 359.61L173.56 359.99L173.74 360.36L173.92 360.74L174.08 361.12L174.24 361.49L174.37 361.87L174.48 362.25L174.57 362.62L174.61 363L174.57 363.38L174.48 363.75L174.37 364.13L174.24 364.51L174.08 364.88L173.92 365.26L173.74 365.64L173.56 366.01L173.37 366.39L173.18 366.77L172.99 367.15L172.8 367.52L172.62 367.9L172.43 368.28L172.25 368.65L172.08 369.03L171.91 369.41L171.75 369.78L171.59 370.16L171.45 370.54L171.31 370.91L171.18 371.29L171.05 371.67L170.94 372.04L170.83 372.42L170.73 372.8L170.64 373.18L170.55 373.55L170.47 373.93L170.4 374.31L170.33 374.68L170.27 375.06L170.22 375.44L170.17 375.81L170.12 376.19L170.08 376.57L170.04 376.94L170.01 377.32L169.98 377.7L169.95 378.07L169.75 378.07" fill="none" stroke="#ff7f0e" stroke-width="0.8" stroke-linejoin="round"/>
<path d="M169.75 322.8V417.9" stroke="#ff7f0e" stroke-width="0.7"/>
<path d="M169.75 360.4H173.76" stroke="#ff7f0e" stroke-width="0.8" stroke-dasharray="1 0.8"/>
<path d="M169.75 363.2H174.59" stroke="#ff7f0e" stroke-width="0.8" stroke-dasharray="1.8 0.8"/>
<path d="M169.75 366.8H173.17" stroke="#ff7f0e" stroke-width="0.8" stroke-dasharray="1 0.8"/>
<path d="M185.15 346.37L184.95 346.37L184.92 346.75L184.89 347.13L184.86 347.51L184.82 347.88L184.78 348.26L184.73 348.64L184.68 349.02L184.63 349.4L184.56 349.78L184.5 350.15L184.42 350.53L184.34 350.91L184.26 351.29L184.16 351.67L184.06 352.04L183.95 352.42L183.83 352.8L183.71 353.18L183.57 353.56L183.43 353.94L183.28 354.31L183.13 354.69L182.96 355.07L182.79 355.45L182.61 355.83L182.43 356.21L182.24 356.58L182.05 356.96L181.85 357.34L181.66 357.72L181.46 358.1L181.27 358.47L181.09 358.85L180.91 359.23L180.74 359.61L180.58 359.99L180.45 360.37L180.33 360.74L180.24 361.12L180.2 361.5L180.24 361.88L180.33 362.26L180.45 362.63L180.58 363.01L180.74 363.39L180.91 363.77L181.09 364.15L181.27 364.53L181.46 364.9L181.66 365.28L181.85 365.66L182.05 366.04L182.24 366.42L182.43 366.79L182.61 367.17L182.79 367.55L182.96 367.93L183.13 368.31L183.28 368.69L183.43 369.06L183.57 369.44L183.71 369.82L183.83 370.2L183.95 370.58L184.06 370.96L184.16 371.33L184.26 371.71L184.34 372.09L184.42 372.47L184.5 372.85L184.56 373.22L184.63 373.6L184.68 373.98L184.73 374.36L184.78 374.74L184.82 375.12L184.86 375.49L184.89 375.87L184.92 376.25L184.95 376.63L185.15 376.63" fill="none" stroke="#1f77b4" stroke-width="0.8" stroke-linejoin="round"/>
<path d="M185.15 342.4V390.7" stroke="#1f77b4" stroke-width="0.7"/>
<path d="M185.15 358.9H181.06" stroke="#1f77b4" stroke-width="0.8" stroke-dasharray="1 0.8"/>
<path d="M185.15 361.7H180.22" stroke="#1f77b4" stroke-width="0.8" stroke-dasharray="1.8 0.8"/>
<path d="M185.15 365.3H181.67" stroke="#1f77b4" stroke-width="0.8" stroke-dasharray="1 0.8"/>
<path d="M185.85 345.84L186.05 345.84L186.08 346.23L186.11 346.62L186.15 347.01L186.19 347.41L186.23 347.8L186.28 348.19L186.34 348.58L186.4 348.97L186.47 349.36L186.55 349.76L186.63 350.15L186.72 350.54L186.82 350.93L186.93 351.32L187.05 351.71L187.18 352.1L187.32 352.5L187.46 352.89L187.62 353.28L187.79 353.67L187.97 354.06L188.16 354.45L188.36 354.84L188.57 355.24L188.78 355.63L189.01 356.02L189.24 356.41L189.47 356.8L189.71 357.19L189.96 357.59L190.2 357.98L190.44 358.37L190.67 358.76L190.9 359.15L191.11 359.54L191.3 359.93L191.48 360.33L191.63 360.72L191.74 361.11L191.79 361.5L191.74 361.89L191.63 362.28L191.48 362.67L191.3 363.07L191.11 363.46L190.9 363.85L190.67 364.24L190.44 364.63L190.2 365.02L189.96 365.41L189.71 365.81L189.47 366.2L189.24 366.59L189.01 366.98L188.78 367.37L188.57 367.76L188.36 368.16L188.16 368.55L187.97 368.94L187.79 369.33L187.62 369.72L187.46 370.11L187.32 370.5L187.18 370.9L187.05 371.29L186.93 371.68L186.82 372.07L186.72 372.46L186.63 372.85L186.55 373.24L186.47 373.64L186.4 374.03L186.34 374.42L186.28 374.81L186.23 375.2L186.19 375.59L186.15 375.99L186.11 376.38L186.08 376.77L186.05 377.16L185.85 377.16" fill="none" stroke="#ff7f0e" stroke-width="0.8" stroke-linejoin="round"/>
<path d="M185.85 337.4V404.4" stroke="#ff7f0e" stroke-width="0.7"/>
<path d="M185.85 358.9H190.75" stroke="#ff7f0e" stroke-width="0.8" stroke-dasharray="1 0.8"/>
<path d="M185.85 361.7H191.77" stroke="#ff7f0e" stroke-width="0.8" stroke-dasharray="1.8 0.8"/>
<path d="M185.85 365.3H190.03" stroke="#ff7f0e" stroke-width="0.8" stroke-dasharray="1 0.8"/>
<path d="M201.35 347.9L201.15 347.9L201.12 348.27L201.1 348.63L201.06 349L201.03 349.36L200.99 349.73L200.95 350.09L200.9 350.46L200.85 350.82L200.8 351.19L200.74 351.55L200.67 351.92L200.6 352.28L200.53 352.65L200.45 353.01L200.36 353.38L200.26 353.74L200.16 354.11L200.06 354.47L199.95 354.84L199.83 355.2L199.7 355.57L199.57 355.93L199.43 356.3L199.29 356.66L199.15 357.03L199 357.39L198.84 357.76L198.69 358.12L198.53 358.49L198.37 358.85L198.22 359.22L198.06 359.58L197.91 359.95L197.77 360.31L197.64 360.68L197.51 361.04L197.4 361.41L197.31 361.77L197.24 362.14L197.21 362.5L197.24 362.86L197.31 363.23L197.4 363.59L197.51 363.96L197.64 364.32L197.77 364.69L197.91 365.05L198.06 365.42L198.22 365.78L198.37 366.15L198.53 366.51L198.69 366.88L198.84 367.24L199 367.61L199.15 367.97L199.29 368.34L199.43 368.7L199.57 369.07L199.7 369.43L199.83 369.8L199.95 370.16L200.06 370.53L200.16 370.89L200.26 371.26L200.36 371.62L200.45 371.99L200.53 372.35L200.6 372.72L200.67 373.08L200.74 373.45L200.8 373.81L200.85 374.18L200.9 374.54L200.95 374.91L200.99 375.27L201.03 375.64L201.06 376L201.1 376.37L201.12 376.73L201.15 377.1L201.35 377.1" fill="none" stroke="#1f77b4" stroke-width="0.8" stroke-linejoin="round"/>
<path d="M201.35 335.1V390.1" stroke="#1f77b4" stroke-width="0.7"/>
<path d="M201.35 359.9H197.93" stroke="#1f77b4" stroke-width="0.8" stroke-dasharray="1 0.8"/>
<path d="M201.35 362.7H197.22" stroke="#1f77b4" stroke-width="0.8" stroke-dasharray="1.8 0.8"/>
<path d="M201.35 366.3H198.44" stroke="#1f77b4" stroke-width="0.8" stroke-dasharray="1 0.8"/>
<path d="M202.05 347.43L202.25 347.43L202.28 347.8L202.31 348.18L202.34 348.56L202.38 348.93L202.42 349.31L202.47 349.69L202.52 350.06L202.57 350.44L202.63 350.82L202.7 351.19L202.77 351.57L202.85 351.95L202.94 352.32L203.03 352.7L203.13 353.08L203.24 353.46L203.35 353.83L203.48 354.21L203.61 354.59L203.75 354.96L203.89 355.34L204.05 355.72L204.21 356.09L204.38 356.47L204.55 356.85L204.73 357.22L204.92 357.6L205.1 357.98L205.29 358.35L205.48 358.73L205.67 359.11L205.86 359.49L206.04 359.86L206.22 360.24L206.38 360.62L206.54 360.99L206.67 361.37L206.78 361.75L206.87 362.12L206.91 362.5L206.87 362.88L206.78 363.25L206.67 363.63L206.54 364.01L206.38 364.38L206.22 364.76L206.04 365.14L205.86 365.51L205.67 365.89L205.48 366.27L205.29 366.65L205.1 367.02L204.92 367.4L204.73 367.78L204.55 368.15L204.38 368.53L204.21 368.91L204.05 369.28L203.89 369.66L203.75 370.04L203.61 370.41L203.48 370.79L203.35 371.17L203.24 371.54L203.13 371.92L203.03 372.3L202.94 372.68L202.85 373.05L202.77 373.43L202.7 373.81L202.63 374.18L202.57 374.56L202.52 374.94L202.47 375.31L202.42 375.69L202.38 376.07L202.34 376.44L202.31 376.82L202.28 377.2L202.25 377.57L202.05 377.57" fill="none" stroke="#ff7f0e" stroke-width="0.8" stroke-linejoin="round"/>
<path d="M202.05 308.8V385.7" stroke="#ff7f0e" stroke-width="0.7"/>
<path d="M202.05 359.9H206.06" stroke="#ff7f0e" stroke-width="0.8" stroke-dasharray="1 0.8"/>
<path d="M202.05 362.7H206.89" stroke="#ff7f0e" stroke-width="0.8" stroke-dasharray="1.8 0.8"/>
<path d="M202.05 366.3H205.47" stroke="#ff7f0e" stroke-width="0.8" stroke-dasharray="1 0.8"/>
<path d="M217.65 347.54L217.45 347.54L217.42 347.91L217.39 348.29L217.36 348.66L217.32 349.03L217.28 349.41L217.24 349.78L217.19 350.16L217.13 350.53L217.08 350.9L217.01 351.28L216.94 351.65L216.86 352.03L216.78 352.4L216.69 352.77L216.59 353.15L216.49 353.52L216.38 353.9L216.26 354.27L216.13 354.64L216 355.02L215.85 355.39L215.71 355.77L215.55 356.14L215.39 356.52L215.22 356.89L215.05 357.26L214.87 357.64L214.69 358.01L214.51 358.39L214.33 358.76L214.15 359.13L213.97 359.51L213.79 359.88L213.63 360.26L213.47 360.63L213.33 361L213.2 361.38L213.09 361.75L213.01 362.13L212.97 362.5L213.01 362.87L213.09 363.25L213.2 363.62L213.33 364L213.47 364.37L213.63 364.74L213.79 365.12L213.97 365.49L214.15 365.87L214.33 366.24L214.51 366.61L214.69 366.99L214.87 367.36L215.05 367.74L215.22 368.11L215.39 368.48L215.55 368.86L215.71 369.23L215.85 369.61L216 369.98L216.13 370.36L216.26 370.73L216.38 371.1L216.49 371.48L216.59 371.85L216.69 372.23L216.78 372.6L216.86 372.97L216.94 373.35L217.01 373.72L217.08 374.1L217.13 374.47L217.19 374.84L217.24 375.22L217.28 375.59L217.32 375.97L217.36 376.34L217.39 376.71L217.42 377.09L217.45 377.46L217.65 377.46" fill="none" stroke="#1f77b4" stroke-width="0.8" stroke-linejoin="round"/>
<path d="M217.65 329.3V419.4" stroke="#1f77b4" stroke-width="0.7"/>
<path d="M217.65 359.9H213.79" stroke="#1f77b4" stroke-width="0.8" stroke-dasharray="1 0.8"/>
<path d="M217.65 362.7H212.98" stroke="#1f77b4" stroke-width="0.8" stroke-dasharray="1.8 0.8"/>
<path d="M217.65 366.3H214.36" stroke="#1f77b4" stroke-width="0.8" stroke-dasharray="1 0.8"/>
<path d="M218.35 347.22L218.55 347.22L218.58 347.6L218.61 347.98L218.64 348.36L218.68 348.74L218.72 349.13L218.77 349.51L218.82 349.89L218.88 350.27L218.95 350.65L219.02 351.04L219.09 351.42L219.18 351.8L219.27 352.18L219.37 352.57L219.47 352.95L219.59 353.33L219.71 353.71L219.84 354.09L219.98 354.48L220.13 354.86L220.29 355.24L220.45 355.62L220.63 356L220.81 356.39L221 356.77L221.19 357.15L221.39 357.53L221.6 357.91L221.8 358.3L222.01 358.68L222.22 359.06L222.42 359.44L222.62 359.83L222.81 360.21L222.99 360.59L223.16 360.97L223.31 361.35L223.43 361.74L223.52 362.12L223.57 362.5L223.52 362.88L223.43 363.26L223.31 363.65L223.16 364.03L222.99 364.41L222.81 364.79L222.62 365.17L222.42 365.56L222.22 365.94L222.01 366.32L221.8 366.7L221.6 367.09L221.39 367.47L221.19 367.85L221 368.23L220.81 368.61L220.63 369L220.45 369.38L220.29 369.76L220.13 370.14L219.98 370.52L219.84 370.91L219.71 371.29L219.59 371.67L219.47 372.05L219.37 372.43L219.27 372.82L219.18 373.2L219.09 373.58L219.02 373.96L218.95 374.35L218.88 374.73L218.82 375.11L218.77 375.49L218.72 375.87L218.68 376.26L218.64 376.64L218.61 377.02L218.58 377.4L218.55 377.78L218.35 377.78" fill="none" stroke="#ff7f0e" stroke-width="0.8" stroke-linejoin="round"/>
<path d="M218.35 316.7V394.2" stroke="#ff7f0e" stroke-width="0.7"/>
<path d="M218.35 359.9H222.66" stroke="#ff7f0e" stroke-width="0.8" stroke-dasharray="1 0.8"/>
<path d="M218.35 362.7H223.55" stroke="#ff7f0e" stroke-width="0.8" stroke-dasharray="1.8 0.8"/>
<path d="M218.35 366.3H222.02" stroke="#ff7f0e" stroke-width="0.8" stroke-dasharray="1 0.8"/>
<text transform="translate(40.3 364.3) rotate(-90)" text-anchor="middle" font-size="8.6">&#916;&#916;<tspan font-style="italic">G</tspan><tspan font-size="6.6" font-style="italic" dy="1.9">real</tspan><tspan dy="-1.9"> &#8722; &#916;&#916;</tspan><tspan font-style="italic">G</tspan><tspan font-size="6.6" font-style="italic" dy="1.9">predicted</tspan></text>
<rect x="543.3" y="303.4" width="163.3" height="121.6" fill="none" stroke="#6a6a6a" stroke-width="0.9"/>
<text x="551.5" y="433.8" text-anchor="middle" font-size="7.5">1</text>
<text x="567.8" y="433.8" text-anchor="middle" font-size="7.5">2</text>
<text x="584.1" y="433.8" text-anchor="middle" font-size="7.5">3</text>
<text x="600.4" y="433.8" text-anchor="middle" font-size="7.5">4</text>
<text x="616.7" y="433.8" text-anchor="middle" font-size="7.5">5</text>
<text x="633" y="433.8" text-anchor="middle" font-size="7.5">6</text>
<text x="649.3" y="433.8" text-anchor="middle" font-size="7.5">7</text>
<text x="665.6" y="433.8" text-anchor="middle" font-size="7.5">8</text>
<text x="681.9" y="433.8" text-anchor="middle" font-size="7.5">9</text>
<text x="698.2" y="433.8" text-anchor="middle" font-size="7.5">10</text>
<path d="M551.5 425v2.6M567.8 425v2.6M584.1 425v2.6M600.4 425v2.6M616.7 425v2.6M633 425v2.6M649.3 425v2.6M665.6 425v2.6M681.9 425v2.6M698.2 425v2.6" stroke="#6a6a6a" stroke-width="0.7"/>
<text x="539.7" y="313.05" text-anchor="end" font-size="7.5">20</text>
<text x="539.7" y="339.45" text-anchor="end" font-size="7.5">10</text>
<text x="539.7" y="365.85" text-anchor="end" font-size="7.5">0</text>
<text x="539.7" y="392.25" text-anchor="end" font-size="7.5">−10</text>
<text x="539.7" y="418.65" text-anchor="end" font-size="7.5">−20</text>
<path d="M543.3 310.5h-2.6M543.3 336.9h-2.6M543.3 363.3h-2.6M543.3 389.7h-2.6M543.3 416.1h-2.6" stroke="#6a6a6a" stroke-width="0.7"/>
<text x="624.95" y="443.9" text-anchor="middle" font-size="8.9" textLength="86.7" lengthAdjust="spacingAndGlyphs">Fold Used as Test Set</text>
<text transform="translate(520.3 364.2) rotate(-90)" text-anchor="middle" font-size="8.6">&#916;&#916;<tspan font-style="italic">G</tspan><tspan font-size="6.6" font-style="italic" dy="1.9">real</tspan><tspan dy="-1.9"> &#8722; &#916;&#916;</tspan><tspan font-style="italic">G</tspan><tspan font-size="6.6" font-style="italic" dy="1.9">predicted</tspan></text>
<g clip-path="url(#clipC3)">
<rect x="546.5" y="341.5" width="3.2" height="41.3" rx="1.6" ry="5" fill="url(#gb)"/>
<path d="M548.61 359.44h0M546.65 367.57h0M546.6 352.3h0M548.13 359.89h0M546.64 373.13h0M546.71 364.79h0M546.82 344.51h0M547.16 371.21h0M548.36 344.24h0M547.75 343.68h0M549.32 365.38h0M547.38 361.66h0M547.45 365.42h0M549.17 366.32h0M548.57 368.04h0M547.67 374.83h0M546.6 358.51h0M547.1 361.02h0M547.47 357.41h0M548.39 352.02h0M549.1 353.59h0M548.78 364.74h0M548.19 362.66h0M549.38 375.98h0M549.73 361.03h0M546.8 353.5h0M546.92 346.64h0M548.06 370.92h0M549 377.41h0M548.35 365.99h0M548.76 368.67h0M548.42 355.67h0M549.26 351.9h0M549.61 356.53h0M546.61 346.71h0M548.79 364.68h0M549.19 342.03h0M548.67 359.9h0M546.48 372.36h0M546.8 355.91h0M546.6 363.68h0M547.24 362.79h0M547.73 356.61h0M547.93 365.15h0M548.27 359.01h0M549.34 376.71h0M547.35 349.05h0M549.41 353.55h0M549.66 367.22h0M547.19 365.99h0M547.19 367.51h0M547.29 348.09h0M546.41 363.48h0M548.33 353.27h0M549.64 367.11h0M548.5 357.49h0M548.7 350.28h0M549.05 383.56h0M549.37 369.7h0M547.76 365.28h0M546.75 352.05h0M546.63 359.63h0M547.11 359.31h0M546.58 367.2h0M546.4 370.38h0M547.64 365h0M546.49 366.14h0M546.91 372.44h0M547.26 351.77h0M546.82 356.36h0M549.29 370.4h0M548.05 374h0M546.69 361.64h0M547.3 369.92h0M549.22 367.96h0M549.63 363.36h0M548.2 364.09h0M546.49 370.17h0M548.2 372.71h0M548.77 383.08h0M547.29 359.3h0M549.02 357.86h0M548.21 366.91h0M547.16 363.87h0M549.16 352.84h0M549.14 382.78h0M549.18 360.19h0M548.16 361.67h0M547.61 354.57h0M547.35 364.63h0M547.28 362.61h0M547.92 352.78h0M549.59 337.34h0M547.64 360.17h0M547.07 363.55h0M547.09 369.62h0M549.26 345.98h0M548.03 346.16h0M546.69 351.28h0M548.65 346.58h0M548.95 377.75h0M548.03 352.22h0M547.53 370.26h0M549.12 378.98h0M547.76 372.61h0M549.62 360.27h0M546.83 361.13h0M546.91 355.77h0M549.08 323.21h0M549.14 320.1h0M548.6 323.52h0M548.26 336.07h0M546.55 335.15h0M548.58 338.68h0" stroke="#1f77b4" stroke-width="1.1" stroke-linecap="round" opacity="0.75"/>
<rect x="553.3" y="341.5" width="3.2" height="44" rx="1.6" ry="5" fill="url(#go)"/>
<path d="M554.67 337.59h0M556.16 359.13h0M554.06 367.08h0M554.2 356.6h0M554.08 364.39h0M554.62 378.47h0M554.4 380.33h0M554.76 381.66h0M554.63 342.33h0M556.32 351.28h0M554.98 349.6h0M553.26 363.36h0M553.21 356.83h0M555.92 366.14h0M555.67 369.49h0M555.09 374.79h0M555.09 357.23h0M555.87 375.61h0M554.04 374.87h0M554.14 372.44h0M555.11 365.37h0M555.78 350.2h0M555.28 373.91h0M554.92 357.12h0M554.74 346.22h0M555.01 362.18h0M555.58 336.87h0M556.18 367.2h0M555.1 371.68h0M556.41 360.39h0M553.61 366.78h0M554.7 358.33h0M553.45 371.02h0M555.48 367.19h0M553.73 368.59h0M555.63 339.99h0M556.2 360.15h0M556.49 358.2h0M554.55 368.79h0M556.03 366.23h0M554.95 369.83h0M554.35 373.68h0M555.66 366.8h0M553.27 372.81h0M553.26 352.04h0M554.33 359.45h0M553.42 353.88h0M556.55 354h0M553.56 370.69h0M555.85 363.19h0M554.12 366.69h0M556.3 371.61h0M555.98 372.09h0M556.33 363.15h0M555.14 369.91h0M553.4 362h0M555.54 358.85h0M556.39 359.6h0M555.36 365.48h0M556.11 365h0M553.43 359.03h0M554.35 371.57h0M555.08 354.08h0M553.64 371.48h0M554.99 359.54h0M553.75 363.89h0M553.37 368.92h0M554.24 366.41h0M555.78 372.81h0M553.8 360.2h0M554.38 376.37h0M553.25 372.01h0M555.69 364.48h0M554.81 356.56h0M556.38 361.19h0M554.67 379.88h0M554.88 376.42h0M554.92 369.22h0M555.54 353.78h0M556.03 373.77h0M555.6 362.36h0M554.38 355.95h0M553.38 354.83h0M555.72 366.46h0M554.07 366.65h0M556.06 365.96h0M556.16 367.55h0M554.02 359.1h0M554.2 355.44h0M554.72 357.11h0M554.1 365.16h0M555.06 356.3h0M554.25 364.52h0M554.5 363.18h0M554.81 363.91h0M554.92 355.94h0M553.22 363.37h0M554.56 363.06h0M553.34 368.37h0M553.99 373.01h0M555.19 364.85h0M555.44 345.01h0M555.63 360.07h0M554.31 371.63h0M556.55 355.78h0M555.62 318.85h0M553.44 325.61h0M556.15 328.24h0M555.65 325.39h0M553.75 327.93h0M554.91 323.98h0M555.87 411.71h0M555.17 411.49h0M555.49 413.14h0M554.04 408.19h0M553.73 391.77h0M553.64 399.95h0M555.09 411.73h0M555.3 406.57h0" stroke="#ff7f0e" stroke-width="1.1" stroke-linecap="round" opacity="0.75"/>
<rect x="562.8" y="341.5" width="3.2" height="42.5" rx="1.6" ry="5" fill="url(#gb)"/>
<path d="M562.71 357.42h0M565.41 351.3h0M564.52 362.61h0M564.94 349.86h0M563.56 379.04h0M562.95 369.93h0M563.4 361.03h0M565.22 380.28h0M564 375.32h0M564.33 360.82h0M564.8 355.22h0M564.89 345.74h0M563.56 368.19h0M565.23 365.63h0M562.74 358.02h0M562.91 376.05h0M565.05 360.84h0M565 378.91h0M564.28 359.41h0M564.29 375.46h0M563.38 379.72h0M566.03 378.38h0M564.26 364.64h0M565.49 361.95h0M563.61 374.42h0M563.41 360.38h0M564.68 369.81h0M563.18 360.24h0M563.15 358.69h0M565.72 368.3h0M565.09 351h0M564.35 365.47h0M562.78 385.86h0M564.23 375.42h0M563.73 363.04h0M563.77 369.09h0M565.56 370.49h0M565.55 380.91h0M563.11 362.95h0M565.77 378.16h0M563.69 355.07h0M566.1 355.19h0M564.7 370.58h0M563.64 355.37h0M562.86 371.59h0M563.67 379.35h0M565.88 375.08h0M564.44 362.79h0M563.35 371.31h0M565.71 343.68h0M565.46 382.22h0M565.9 346.35h0M564.57 345.08h0M565.19 362.09h0M564.23 359.34h0M563.67 363.01h0M562.87 347.08h0M564.31 367.85h0M563.87 360.22h0M566.02 357.47h0M563.58 379.81h0M564.59 357.62h0M564.04 355.09h0M563.41 365.96h0M565.78 368.37h0M565.78 355.07h0M566.09 362.89h0M563.35 357.07h0M563.01 364.6h0M563.51 360.15h0M563.58 366.74h0M565.25 342.13h0M564.1 353.11h0M563.98 351.37h0M563.85 369.59h0M565.99 370.88h0M563.13 366.09h0M565.63 347.39h0M563.43 362.42h0M564.06 361.67h0M564.22 370.91h0M565.67 383.05h0M562.77 356.71h0M565.75 379.53h0M564.31 366.2h0M564.03 362.57h0M565.85 362.64h0M566.01 372.55h0M563.54 343.69h0M564.48 367.64h0M565.02 366.74h0M564.9 379.02h0M565.3 356.49h0M562.83 349.44h0M565.36 366.41h0M564.89 365.43h0M563.73 387.09h0M564.86 368.51h0M565.08 368.73h0M564.48 365.92h0M564.68 365.45h0M564.74 356.84h0M562.74 367.76h0M565.96 358.9h0M564.89 374.23h0M563.5 371.97h0M563.54 354.49h0M563.75 379.25h0M562.77 358.58h0M564.96 319.48h0M563.62 318.62h0M565.76 321.34h0M562.91 316.49h0M564.15 317.72h0M563.43 405.03h0M565.17 406.46h0M563.46 402.81h0M563.8 408.62h0" stroke="#1f77b4" stroke-width="1.1" stroke-linecap="round" opacity="0.75"/>
<rect x="569.6" y="342.8" width="3.2" height="42.7" rx="1.6" ry="5" fill="url(#go)"/>
<path d="M570.25 367.53h0M572.09 356.97h0M571.19 356.64h0M570.14 390.06h0M571.76 366.05h0M572.73 375.36h0M570.22 370.79h0M572.81 372.86h0M569.7 366.39h0M570.84 366.93h0M571.99 382.37h0M572.89 350.59h0M570.13 373.04h0M572.68 360.07h0M571.76 364.09h0M570.79 361.36h0M570.08 357.25h0M569.51 371.15h0M572.75 362.25h0M569.92 374.16h0M570.71 371.43h0M572.29 362.49h0M569.67 369.24h0M571.11 353.67h0M570.16 347.02h0M570.74 381.78h0M570.9 366.32h0M572.26 362.51h0M569.62 364.48h0M569.71 361.01h0M572.04 371.55h0M572.56 360.09h0M572.76 359.52h0M571.6 371.55h0M570.58 362.82h0M570.44 381.49h0M572.62 382.53h0M571.66 364.59h0M570.3 366.42h0M571.12 363.3h0M570.81 390.32h0M570.35 356.86h0M572.66 352.6h0M570.12 369.59h0M572.3 369.97h0M572.13 347.19h0M570.59 356.52h0M570.73 358.06h0M570.17 365.04h0M572.06 359.8h0M569.62 364.22h0M571.38 368.16h0M572.5 350.09h0M569.79 372.71h0M569.83 363.49h0M571.02 346.93h0M570.3 364.31h0M571.79 350.95h0M572.04 371.75h0M569.91 373.41h0M572.36 350.88h0M570.77 360.3h0M572.01 377.78h0M570.33 366.74h0M570.02 371.99h0M570.61 374.89h0M570.85 354.58h0M570.29 377.16h0M572.25 363.53h0M569.85 344.98h0M572.36 344.16h0M572.61 367.35h0M569.91 372.99h0M570.14 366.44h0M572.66 378.43h0M570.77 361.7h0M570.38 372.12h0M572.14 355.24h0M571.53 369.03h0M571.61 362.42h0M569.98 366.27h0M570.19 374.44h0M571.72 363.69h0M570.19 378.95h0M571.81 373.87h0M570.13 364.85h0M572.2 361.34h0M571.36 370.98h0M570.84 368.82h0M571.37 366.11h0M570.06 361.08h0M571.86 360.48h0M570.55 356.61h0M572.74 368.95h0M570.71 358.74h0M570.92 377.23h0M570.74 388.44h0M570.19 369.9h0M569.52 380.85h0M572.29 373.52h0M570.88 357.49h0M570.05 373.17h0M569.55 355.98h0M572.59 349.3h0M569.8 359.16h0M571.22 356.57h0M570 356.83h0M571.27 324.17h0M569.95 334.77h0M572.18 327.59h0M570.23 335.45h0M572.62 321.59h0M571.14 335.6h0M572.56 320.38h0M572.49 402.88h0M572.24 405.2h0M572.11 400.6h0M570.89 401.22h0M572.25 407.46h0" stroke="#ff7f0e" stroke-width="1.1" stroke-linecap="round" opacity="0.75"/>
<rect x="579.1" y="338.8" width="3.2" height="44" rx="1.6" ry="5" fill="url(#gb)"/>
<path d="M580.36 364.04h0M580.76 368.02h0M579.84 356.5h0M581.46 364.66h0M580.91 363.41h0M581.58 358.83h0M579.4 381.72h0M581.04 365.91h0M580.04 345.73h0M580.43 355.9h0M581.24 350.48h0M580.52 354.9h0M581.1 358.53h0M580.66 361.73h0M581.65 362.57h0M580.56 379.88h0M579.36 366.27h0M579.44 372.34h0M580.5 356.31h0M580.73 362.89h0M579.28 376.33h0M581.49 364.87h0M579.18 363.13h0M580.71 347.5h0M579.46 340.87h0M581.91 380.03h0M581.77 379.11h0M579.66 360.35h0M582.25 373.84h0M582.11 359.3h0M582.16 370.91h0M579.22 377.92h0M579.54 349.57h0M582.05 376.07h0M579.49 357.56h0M580.71 381.29h0M579.89 367.56h0M580.72 357.08h0M579.62 359.5h0M579.55 363.6h0M582.04 376.48h0M579.57 354.18h0M580.8 362.01h0M581.16 355.35h0M580.89 346.22h0M580.97 378.48h0M582.38 364.72h0M581.14 357.23h0M579.9 344.92h0M582.37 373.24h0M581.6 351.37h0M580.5 355.82h0M579.16 369.07h0M581.79 377.48h0M582.35 360.43h0M580.99 376.91h0M579.01 355.76h0M579.11 352.43h0M580.47 370.03h0M580.74 373.39h0M579.77 365.56h0M581.22 357.14h0M580.21 361.61h0M579.36 360.91h0M580.98 355.79h0M581 367.09h0M580.61 365.28h0M579.46 375.93h0M579.51 368.57h0M579.33 357.53h0M581.66 346.04h0M580.37 343.36h0M581.19 360.65h0M580.91 362.51h0M580.51 351.22h0M582.19 373.93h0M582.07 359.92h0M579.15 352.32h0M579.81 349.51h0M579.2 358.53h0M580.87 361.12h0M582.2 359.05h0M581.07 365.51h0M580.72 366.67h0M579.59 347.78h0M580.05 344.74h0M582.02 359.7h0M581.66 364.18h0M581.87 360.53h0M581.53 359.56h0M580.54 342.68h0M579.77 364.82h0M579.13 367.27h0M580.14 365.84h0M581.87 360.76h0M581.42 343.41h0M580.48 359.36h0M581.68 375.06h0M581.18 352.04h0M582.28 359.51h0M579.05 365.58h0M579.89 383.54h0M582.21 362.42h0M581.54 379.35h0M580.12 350.01h0M579.81 381.38h0M581.36 374.11h0M581.26 352.06h0M581.86 373.39h0M581.37 359.13h0M580.5 335.15h0M580.93 334.35h0" stroke="#1f77b4" stroke-width="1.1" stroke-linecap="round" opacity="0.75"/>
<rect x="585.9" y="347" width="3.2" height="34.4" rx="1.6" ry="5" fill="url(#go)"/>
<path d="M587.92 362.04h0M586.06 369.89h0M585.89 368.38h0M586.16 361.58h0M586.28 371.52h0M585.9 360.7h0M587.96 377.29h0M588.17 367.71h0M587.81 363.93h0M587.04 360.96h0M588.83 370.92h0M586.02 349.33h0M589.01 377.39h0M586.16 349.76h0M585.92 365.38h0M588.68 368.33h0M588.61 368.95h0M587.95 352.63h0M586.13 363.26h0M588.38 368.14h0M587.24 366.36h0M585.87 371.63h0M588.23 363.9h0M587.05 371.38h0M587.51 354.41h0M588.69 384.73h0M587.2 362.57h0M587.28 362.7h0M588.2 365.37h0M587.63 356.14h0M586.11 367.86h0M588.59 381.38h0M586.49 364.42h0M588.39 364.59h0M587.47 365.02h0M587.47 364.09h0M587.48 365.83h0M586.98 358.81h0M589.01 367.57h0M586.76 358.23h0M587.49 367.21h0M586.17 377.54h0M588.48 361.83h0M588.17 361.46h0M587.01 367.05h0M587.16 352.13h0M586.09 349.57h0M588.82 375.61h0M586.69 370.12h0M588.86 365.14h0M588.81 355.59h0M586.59 364.14h0M588.37 353.66h0M588.36 366.84h0M586.91 359.25h0M586.33 357.71h0M588.32 371.38h0M586.38 353.37h0M587.77 350.11h0M586.23 369.9h0M586.61 346.37h0M586.45 368.54h0M588.67 359.83h0M586.33 377.23h0M586.91 367.91h0M587.58 369.73h0M586.44 368.38h0M589.12 370.87h0M589.07 363.66h0M586.15 360.15h0M588.5 345.28h0M588.29 381.05h0M587.97 358.85h0M586.16 366.52h0M585.92 366.56h0M587.16 372.62h0M587.5 367.66h0M587.95 351.08h0M587.85 359.45h0M587.18 365.32h0M587.26 363.1h0M587.75 344.96h0M586.58 364.15h0M588.26 354.98h0M588.18 375.3h0M588.7 353.79h0M587.34 358.79h0M586.86 352.78h0M587.23 361.43h0M588.46 361.31h0M586.65 361.35h0M587.24 352.1h0M587.19 352.39h0M588.1 367.62h0M588.03 369.28h0M588.45 361.82h0M589.11 356.37h0M585.93 370.79h0M588.46 359.17h0M589 362.79h0M587.75 360.16h0M587.64 363.71h0M587.97 362.04h0M588.62 353.85h0M589.02 355.22h0M586.51 362.97h0M588.39 360.67h0M586.22 356.13h0M585.99 372.43h0M586.73 363.39h0M585.94 329.36h0M587.25 329.63h0M587.03 333.65h0M586.62 327.42h0M588.91 334.28h0M586.6 399.05h0" stroke="#ff7f0e" stroke-width="1.1" stroke-linecap="round" opacity="0.75"/>
<rect x="595.4" y="344.3" width="3.2" height="38.5" rx="1.6" ry="5" fill="url(#gb)"/>
<path d="M596.02 366.68h0M595.74 354.21h0M597.46 366.54h0M596.9 345.82h0M598.58 357.01h0M596.5 360.86h0M598.08 351.81h0M596.89 349.58h0M595.73 360.13h0M598.13 375.52h0M596.21 351.77h0M596.58 378.78h0M595.93 363.32h0M595.31 373.95h0M596.13 362.14h0M596.33 355.65h0M597.47 353.19h0M597.54 364.89h0M598.21 348.82h0M595.49 380.81h0M597.97 373.64h0M595.78 344.61h0M595.35 370.39h0M595.34 351.36h0M596.15 377.31h0M595.65 359.25h0M597.94 368.04h0M596.48 369.18h0M597.99 375.82h0M595.87 381.05h0M597.96 374.03h0M597.57 355.01h0M598.15 377.22h0M595.97 352.8h0M597.82 359.28h0M596.79 352.18h0M596.2 372.85h0M596.1 355.11h0M595.5 370.92h0M596.89 372.39h0M596.99 370.62h0M597.13 372.59h0M598.16 364.29h0M596.89 362.69h0M598.16 350.06h0M596.57 357.95h0M595.56 341.64h0M597.47 375.81h0M597.37 361.99h0M597.62 361.76h0M598.64 371.59h0M597.04 359.86h0M595.42 342.57h0M597.74 365.58h0M598.23 357.21h0M596.54 357.19h0M597.92 351.65h0M596.02 365.47h0M597.18 354.05h0M598.11 367.65h0M596.67 358.62h0M597.01 381.4h0M598.61 361.96h0M597.53 375.17h0M596.38 365.86h0M596.32 355.01h0M597.97 351.55h0M595.44 356.31h0M597.15 360.04h0M595.47 343.3h0M595.95 363.21h0M598.43 364.6h0M597.98 352.33h0M598.39 354.42h0M597.43 353.11h0M597.67 354.72h0M596.02 351.28h0M597.57 355.06h0M595.64 347.39h0M595.92 367.93h0M598.41 380.13h0M597.53 367.47h0M597.97 351.08h0M597.21 377.02h0M596.73 363.13h0M596.38 371.91h0M598.48 350.73h0M595.49 369.52h0M595.7 361h0M598.06 362.4h0M596.82 343.87h0M595.35 353.47h0M598.49 353.52h0M598.63 372.16h0M595.65 353.49h0M597.49 365.11h0M595.35 364.88h0M595.32 369.06h0M598.59 361.52h0M595.6 358.95h0M595.36 367.09h0M597.75 359.76h0M595.94 364.33h0M595.47 379.59h0M598.21 365.9h0M597.78 348.12h0M597.71 375.54h0M596.87 370.57h0M598.58 370.44h0M597.74 360.43h0M595.45 391.01h0" stroke="#1f77b4" stroke-width="1.1" stroke-linecap="round" opacity="0.75"/>
<rect x="602.2" y="348.4" width="3.2" height="31.6" rx="1.6" ry="5" fill="url(#go)"/>
<path d="M602.37 355.47h0M603.16 352.07h0M605.03 363.57h0M603.75 359.36h0M604.05 371.42h0M603.59 367.05h0M604.81 362.19h0M603.34 360.14h0M603.52 357.19h0M603.41 355.18h0M604.77 368.6h0M604.03 345.19h0M605.41 363.45h0M604.49 366.96h0M604.16 367.6h0M605.42 357.77h0M603.15 369.57h0M603.56 354.62h0M604.43 370.21h0M604.15 359.11h0M603.06 375.88h0M602.11 355.27h0M604.09 363.5h0M604.87 372.66h0M604.93 366.01h0M604.86 362.65h0M603.03 371.29h0M604.99 356.38h0M605.21 368.52h0M603.28 352.67h0M604.81 373.06h0M602.78 369.44h0M602.9 364.22h0M604.16 345.43h0M602.8 360.22h0M602.97 356.05h0M603.66 364.3h0M602.4 349.85h0M602.89 369.05h0M604.07 351.14h0M603.87 377.64h0M603.72 354.03h0M602.75 359.76h0M602.71 361.41h0M604.02 361.87h0M603.47 356.87h0M602.25 359.62h0M605.49 363.7h0M604.25 361.5h0M604.78 366.93h0M603.27 370.28h0M603.87 373.28h0M605.47 366.3h0M605.04 364.47h0M602.99 353.75h0M604.75 365.1h0M604.71 346.68h0M604.88 373h0M602.23 370.24h0M602.78 362.79h0M602.27 365.63h0M604 367.27h0M605.32 370.37h0M605.19 357.69h0M603.45 374.26h0M602.51 368.49h0M604.02 370.24h0M604.28 362.62h0M603.44 375.81h0M603.62 360.94h0M605.47 375.51h0M602.85 381.95h0M603.3 370.25h0M605.17 365.7h0M602.26 376.95h0M604.77 355.49h0M605.45 361.27h0M602.29 352.89h0M605.29 372.54h0M604.4 374.93h0M604.68 360.93h0M602.46 374.54h0M602.52 361.4h0M603.74 369.78h0M602.59 367.13h0M604.4 369.41h0M602.76 377.04h0M602.22 365.22h0M605.28 369.34h0M605.05 361.69h0M603.62 367.6h0M602.43 361.34h0M604.24 378.24h0M603.64 357.46h0M603.72 356.14h0M604.24 376.94h0M602.29 367.78h0M604.53 368.68h0M605.06 359.92h0M603.01 362.71h0M603.02 360.19h0M604.95 366.68h0M603.77 361.71h0M603.18 368.43h0M605.43 367.47h0M602.29 361.92h0M602.82 373.71h0M603.72 356.82h0M602.79 362.79h0M603.34 370.3h0M605.39 332.94h0M602.51 332.48h0M605.07 328.03h0M604.52 386.72h0M605.33 393.81h0M604.78 385.48h0M602.65 395.23h0M604.86 385.06h0M602.79 400.8h0M605.12 398.06h0M604.03 391.55h0" stroke="#ff7f0e" stroke-width="1.1" stroke-linecap="round" opacity="0.75"/>
<rect x="611.7" y="334.6" width="3.2" height="50.9" rx="1.6" ry="5" fill="url(#gb)"/>
<path d="M614.22 365.37h0M614.02 366.32h0M611.9 361.79h0M613.67 365.06h0M612.3 349.61h0M613.68 360.35h0M613.58 353.8h0M612.29 337.04h0M612.99 379.47h0M614.05 368.55h0M612.74 382.43h0M614.46 368.17h0M611.65 370.07h0M614.69 348.61h0M612.51 333.87h0M612.23 363.92h0M612.16 366.18h0M612.86 349.17h0M613.37 359.01h0M613.12 359.34h0M614.03 353.46h0M614.38 359.4h0M614.02 367.67h0M612.9 351.46h0M614.57 360.09h0M614.84 355.41h0M613.4 344.4h0M613.43 360.56h0M612.36 364.48h0M612.45 362.55h0M614.38 365.59h0M613.98 365.82h0M612.26 361.15h0M613.56 377.59h0M613.38 362.01h0M614.56 358.27h0M614.04 354.24h0M613.28 366.47h0M613.3 361.92h0M612.98 358.82h0M612.07 366.59h0M612.1 338.31h0M613.55 345.91h0M614.41 359.88h0M614.79 352.23h0M614.46 349.61h0M613.39 368.82h0M614.24 335.42h0M612.75 379h0M613.08 360.76h0M614.94 371.82h0M614.37 369.71h0M614.48 332.89h0M614.86 374.92h0M614.78 365.25h0M613.75 360.11h0M612.84 373.72h0M613.07 355.2h0M613.32 359.1h0M614.9 367.14h0M614.24 360.98h0M614.35 377.1h0M614.61 352.92h0M613.78 362.63h0M612.5 357.76h0M613.44 355.52h0M614.74 350.66h0M613.37 352.88h0M613.07 353.21h0M612.64 370.29h0M613.8 356.78h0M614.85 372.8h0M613.35 372.08h0M613.42 358.36h0M612.1 374.58h0M612.6 364.98h0M612.98 364.91h0M611.9 357.73h0M613.46 369.52h0M613.54 369.62h0M613.81 344.91h0M613.17 366.25h0M613.46 379.64h0M612.66 348.9h0M612.42 350.49h0M612.9 362.83h0M613.59 375.44h0M614.53 372.19h0M612.41 360.96h0M612.57 345.82h0M614.96 354.76h0M612.14 353.72h0M611.83 381.59h0M611.81 369.75h0M612.92 349.88h0M611.97 340.27h0M612.37 367.9h0M612.13 380.74h0M612.75 354.64h0M613.7 348.3h0M614.49 375.71h0M614.11 366.87h0M614.13 345.84h0M614.27 360.95h0M614.01 345.26h0M614.56 365.91h0M611.61 356.57h0M613.29 361.75h0M614.87 342.8h0" stroke="#1f77b4" stroke-width="1.1" stroke-linecap="round" opacity="0.75"/>
<rect x="618.5" y="338.8" width="3.2" height="44" rx="1.6" ry="5" fill="url(#go)"/>
<path d="M621.06 350.24h0M621.37 355.67h0M619.94 352.19h0M619.96 353.92h0M619.73 359.22h0M620.29 351.54h0M621.08 353.36h0M621.29 367.4h0M619.03 348.58h0M619.43 360.83h0M620.38 369.85h0M618.7 372.47h0M621.27 369.55h0M621.25 356h0M619.85 368.17h0M621.5 358.85h0M620.32 364.31h0M620.09 361.04h0M620.23 377.86h0M621.79 351.47h0M620.73 347.27h0M619.72 359.31h0M619.59 351.3h0M621.62 372.62h0M618.74 354.66h0M619.67 348.47h0M620.35 349.03h0M621.39 369.25h0M619.9 373.51h0M620.52 357.92h0M620.2 371.14h0M621.17 360.55h0M621.73 365.52h0M621.21 369.47h0M621.44 355.36h0M620.75 360.37h0M621.42 375.53h0M619.39 355.02h0M620.14 363.94h0M619.02 353.52h0M620.54 360.58h0M621.78 352.4h0M620.56 354.44h0M621.08 372.01h0M619.44 363.85h0M619.44 360.44h0M621.26 359.87h0M619.07 346.44h0M620.09 352.16h0M620.6 352.42h0M620.21 357.89h0M619.8 375.55h0M618.81 360.53h0M618.76 371.33h0M618.74 376.67h0M621.2 367.37h0M620.48 372.84h0M618.44 362.21h0M621.02 357.01h0M619.6 352.9h0M618.98 376.85h0M621.47 360.26h0M620.38 365.94h0M619.71 353.62h0M618.59 370.83h0M621.66 372.32h0M619.89 351.33h0M618.55 354.58h0M621.56 354.94h0M621.46 366.8h0M621.17 353.04h0M621.66 355.73h0M620.08 375.26h0M619.73 368.8h0M620.84 358.18h0M621.38 362.53h0M620.05 370.35h0M618.99 363.04h0M619.62 352.68h0M619.39 372.48h0M620.21 355.64h0M619.71 358.7h0M618.82 357.39h0M621.21 363.17h0M619.05 355.78h0M619.36 367.6h0M620.66 361.04h0M619.56 363.8h0M618.71 370.64h0M619.32 375.45h0M619.91 363.8h0M621.24 355.72h0M619.6 363.05h0M620.86 354.55h0M619.11 340.44h0M621.63 380.68h0M619.94 352.7h0M618.85 360.55h0M621.46 358.43h0M620.4 352.36h0M620.47 355.07h0M619.12 367.06h0M620.14 364.82h0M620.24 356.65h0M619.71 358.32h0M620.64 380.03h0M619.73 351.93h0M618.69 356.78h0M621.22 323.95h0M620.62 325.53h0M620.3 323.2h0M620.1 325.98h0M618.71 399.89h0M619.22 399.93h0M620.79 399.38h0" stroke="#ff7f0e" stroke-width="1.1" stroke-linecap="round" opacity="0.75"/>
<rect x="628" y="340.1" width="3.2" height="42.7" rx="1.6" ry="5" fill="url(#gb)"/>
<path d="M630.99 359.2h0M630.53 372.35h0M628.35 377.57h0M628.84 346.83h0M630.16 377.69h0M629.09 364.5h0M630.28 347.75h0M628.74 369.84h0M630.04 367.27h0M628.52 353.08h0M630.4 379.56h0M630.32 377.47h0M628.45 364.48h0M628.57 362.24h0M628.03 357.94h0M628.96 371.58h0M630.75 357h0M629.84 356.19h0M629.38 359.7h0M630.23 353.24h0M630.74 361.17h0M630.54 361.84h0M630.8 360.72h0M629.97 364.61h0M628.28 369.29h0M630.59 363.85h0M630.45 367.47h0M628.19 384.97h0M630.44 357.72h0M630.72 351.15h0M631.12 360.53h0M629.34 366.11h0M630.41 376.66h0M630.72 354.32h0M628.08 353.12h0M630.27 352.78h0M631.06 349.64h0M628.33 367.16h0M630.29 361.69h0M630.64 358.19h0M631.2 360.48h0M630.07 375.18h0M628.1 353.47h0M629.12 359.19h0M628.96 355.21h0M628.36 365.32h0M628.71 357.09h0M628.72 345.73h0M631.08 349.62h0M629.09 360.3h0M628.38 354.5h0M629.82 383.12h0M629.76 351.36h0M630.49 378.86h0M629.94 369.34h0M629.47 375.63h0M628.29 363.54h0M628.88 340.9h0M628.11 356.69h0M628.86 367.17h0M629.42 367h0M628.28 377.55h0M629.13 355.9h0M628.47 372.44h0M631.27 362.9h0M630.45 362.15h0M631.23 376.48h0M629.82 370.21h0M629.38 371.28h0M628.55 369.46h0M631.03 360.09h0M630.09 361.07h0M630.12 343.65h0M628.75 343.03h0M627.99 361.6h0M630.53 367.43h0M628.53 366.35h0M630.07 353.69h0M628.47 375.61h0M630.57 340.81h0M629.01 370.18h0M628.53 345.67h0M629.15 365.83h0M629.77 352.89h0M628.71 347.38h0M628.04 376.57h0M630.69 347.39h0M630.3 355.17h0M629.58 383.27h0M629.6 346.66h0M629.88 366.52h0M628.17 369.17h0M629.41 358.96h0M631.2 355.4h0M629.39 364.09h0M628.55 363.12h0M630.76 361.31h0M630.81 360.64h0M628.86 364.1h0M630.15 350.23h0M629.05 350.05h0M629.39 360.4h0M630.97 351.15h0M628.46 343.75h0M629.82 358.09h0M629.08 372.81h0M629 363h0M629.47 365.8h0M630.84 385.02h0M631.21 357.15h0M629.98 336.85h0M628.19 336.24h0M629.95 396.71h0M629.83 395.19h0" stroke="#1f77b4" stroke-width="1.1" stroke-linecap="round" opacity="0.75"/>
<rect x="634.8" y="338.8" width="3.2" height="39.9" rx="1.6" ry="5" fill="url(#go)"/>
<path d="M636.9 369.95h0M635.72 355.33h0M634.79 346.96h0M635.34 376.47h0M634.99 353.92h0M636.95 348.71h0M636.12 349.39h0M636.5 368.47h0M635.09 349.31h0M635.31 354.68h0M635.08 368.69h0M637.63 350.53h0M636.5 358.65h0M635.56 363.32h0M635.47 345.78h0M636.65 359.63h0M636.7 368.06h0M634.97 366.75h0M636.19 355.4h0M637.64 360.93h0M637.27 343.36h0M635.09 353.69h0M635.05 375.08h0M637.52 357.79h0M637.96 353.87h0M636.61 362.69h0M637.34 359.62h0M634.9 353.27h0M634.75 359.56h0M636.72 368.59h0M637.11 360.73h0M636.15 367.16h0M637.67 369.65h0M636.61 349.57h0M635.27 376.73h0M637.23 348.5h0M637.01 349.31h0M637.51 373.34h0M637.21 365.84h0M637.92 365.64h0M636.75 358.21h0M635.04 355.75h0M635.08 341.17h0M637.85 353.18h0M635.36 355.2h0M636.22 351.76h0M635.09 365.85h0M634.77 347.27h0M635.33 372.88h0M636.58 370.5h0M635.99 354.87h0M635.19 373.86h0M637.04 367.77h0M637.45 349.78h0M635.86 360.37h0M635.21 358.21h0M637.42 337.96h0M634.82 358.52h0M637.01 366.55h0M636.03 375.96h0M637.57 352.81h0M636.04 359.66h0M634.96 368.56h0M635.82 348.69h0M636.7 363.3h0M634.85 379.94h0M636.29 363.43h0M636.66 367.23h0M634.72 351.47h0M636.67 364.94h0M636.26 357.7h0M638.05 360.55h0M636.98 364.26h0M635.63 360.37h0M635.59 356.99h0M636.63 370.67h0M638.07 354.24h0M637.32 371.57h0M637.67 361.54h0M636.86 360.95h0M635.93 344.43h0M637.67 355.16h0M637.89 376.62h0M637.3 355.11h0M637.21 350.84h0M635.89 344.24h0M636.57 357.94h0M635.85 355.75h0M635.8 360.76h0M635.95 370.44h0M635.53 357.9h0M635.16 359.65h0M634.72 368.19h0M636.21 366.49h0M636.63 350.6h0M634.93 356.74h0M635.73 364.64h0M636.57 352.83h0M637.89 374.13h0M636.68 346.33h0M634.97 378.19h0M638.06 364.59h0M635.91 370.91h0M637.65 360.4h0M634.93 348.06h0M635.64 336.94h0M635.58 360.88h0M635.61 364.82h0M637.09 359.64h0M636.08 386.99h0M636.73 386.65h0M636.87 399.39h0M637.15 386.58h0M636.72 401.29h0M637.39 384.32h0M635.89 399.61h0M635.4 385.42h0" stroke="#ff7f0e" stroke-width="1.1" stroke-linecap="round" opacity="0.75"/>
<rect x="644.3" y="349.8" width="3.2" height="27.5" rx="1.6" ry="5" fill="url(#gb)"/>
<path d="M646.38 349.54h0M647.34 360.24h0M646.75 365.02h0M646.41 369.65h0M645.35 354.75h0M644.4 369.51h0M646.33 361.7h0M645.34 364.65h0M645.07 354.04h0M645.78 363.89h0M646.12 379.55h0M647.56 364.92h0M646.66 372.68h0M645.32 366.9h0M644.69 366.97h0M646.81 365.83h0M645.64 374.48h0M646.03 370.47h0M646.44 355.93h0M646.25 358.81h0M645.08 357.91h0M646.62 373.68h0M645.25 364.57h0M646.83 351.4h0M645.15 371.22h0M645.98 362.45h0M644.23 367.04h0M645.82 362.19h0M645.43 356.74h0M647.56 353.47h0M644.51 365.17h0M644.3 375.29h0M645.91 365.2h0M646.09 365.4h0M645.44 370.49h0M644.71 378.75h0M647.33 368.63h0M644.75 373.91h0M645.02 375.58h0M647.54 365.77h0M645.37 353.52h0M646.92 363.62h0M647.27 357.51h0M644.57 365.1h0M646.39 363.28h0M645.57 360.97h0M646.12 365.18h0M645.59 361.68h0M646.33 378.39h0M644.96 355.29h0M645.67 363.48h0M644.99 369.05h0M646.39 367h0M645.21 374.94h0M646.14 368.47h0M644.73 363.37h0M645.11 372.83h0M646.76 352.77h0M645.33 366.09h0M645.85 358.39h0M646.52 366.79h0M646.23 360.9h0M647.2 354.67h0M644.91 366.25h0M646.85 368.51h0M647.14 359.1h0M647.58 369.36h0M645.21 376.38h0M647.51 366.94h0M644.23 364.07h0M646.7 366.98h0M644.53 361.42h0M644.51 368.77h0M645.35 372.87h0M647.2 373.31h0M647.53 358.07h0M646.89 368.6h0M646.54 364.61h0M644.99 371.67h0M645.66 365.52h0M647.57 364.67h0M645.28 364.42h0M645.86 366.13h0M644.66 361.08h0M646.53 359.56h0M644.7 365.47h0M644.58 362.93h0M645.4 355.26h0M645.39 347.76h0M644.93 363.92h0M646.69 377.86h0M645.13 360.59h0M644.43 365.99h0M644.35 368.51h0M646.09 356.34h0M645.43 363.15h0M646.42 374.29h0M646.05 364.27h0M647.54 353.26h0M647.17 360.29h0M645.28 362.12h0M645.63 356.58h0M645.51 370.43h0M645.59 362.37h0M644.22 379.27h0M645.07 351h0M646.28 353.46h0M644.87 359.8h0M644.59 367.2h0M646.81 327.81h0M644.46 328.35h0M645.34 326.59h0M646.06 326.2h0" stroke="#1f77b4" stroke-width="1.1" stroke-linecap="round" opacity="0.75"/>
<rect x="651.1" y="348.4" width="3.2" height="33" rx="1.6" ry="5" fill="url(#go)"/>
<path d="M651 355.85h0M653.54 385.59h0M653.01 371.02h0M654.38 356.85h0M653.53 366.06h0M652.29 376.77h0M652.79 362.91h0M653.08 356.68h0M653.14 361.6h0M652.85 358.21h0M651.9 366.85h0M654.09 376.39h0M652.77 351.56h0M652.62 367.16h0M654.15 365.74h0M652.8 369.51h0M653.77 354.66h0M651.81 363.35h0M652.57 372.27h0M653.18 378.78h0M653.95 373.28h0M651.15 349.05h0M653.78 353.16h0M651.42 375.75h0M651.35 368.56h0M652.21 370.2h0M652.54 368.27h0M651.3 355.2h0M653.36 382.48h0M653.71 355.73h0M653.58 367.92h0M652.25 372.42h0M652.77 375.23h0M652.16 365.53h0M652.3 373.02h0M652.94 370.53h0M651.2 365.53h0M651.93 370.75h0M652.1 377.03h0M651.31 365.72h0M653.16 380.92h0M652.44 368.49h0M653.69 360.5h0M651.15 358.88h0M652.5 359.4h0M652 355.93h0M652.39 374.8h0M652.2 355.68h0M652.31 352.51h0M651.65 347.96h0M654.3 355.76h0M653.26 362.96h0M652.12 356.97h0M652.29 377.73h0M652.79 371.01h0M653.57 346.69h0M651.09 365.29h0M652.57 357.03h0M653.85 359.71h0M654.03 356.65h0M652.5 369.79h0M653.8 354.78h0M653.28 365.46h0M651.14 364.39h0M653.31 356.34h0M653.62 351.23h0M651.4 360.09h0M653.78 365.52h0M651.35 368.23h0M652.92 376.94h0M651.19 372.35h0M652.64 359.3h0M651.19 352.8h0M652.99 361.71h0M654.39 356.69h0M651.49 371.9h0M652.14 349.24h0M654.36 363.98h0M651.93 364.79h0M651.87 364.33h0M653.92 372.21h0M652.43 355.39h0M651.17 361.43h0M653.73 359.2h0M653.91 380.9h0M651.18 364.65h0M652.83 370.58h0M652.66 358.27h0M652.98 371.63h0M651.68 354.79h0M654.13 376.27h0M652.07 362.33h0M652.81 363.95h0M652.1 355.72h0M651.93 370.81h0M653.42 366.91h0M653.73 358.17h0M654.18 357.1h0M652.51 359.8h0M652.47 367h0M653.17 362.88h0M651.24 380.97h0M653.03 370.01h0M652.91 373.03h0M653.72 382.22h0M653.29 352.23h0M652 365.04h0M651.5 368.82h0M654.12 380.57h0M651.42 326.66h0M653.61 325.76h0M652.43 332.61h0M651.92 330.27h0M653.29 415.39h0M651.28 390.61h0M651.23 408.46h0M652.04 413.09h0M652.96 393.18h0M652.89 396.02h0M654.02 390.58h0M653.79 396.2h0M653.66 390.51h0" stroke="#ff7f0e" stroke-width="1.1" stroke-linecap="round" opacity="0.75"/>
<rect x="660.6" y="347" width="3.2" height="30.3" rx="1.6" ry="5" fill="url(#gb)"/>
<path d="M660.61 369.83h0M661.79 361.18h0M662.36 358.65h0M660.82 357.88h0M661.96 349.92h0M662.81 364.93h0M660.92 373.13h0M663.64 371.75h0M662.29 380.54h0M661.49 361.7h0M662.19 354.68h0M663.66 372.72h0M663.44 369.61h0M662.53 367.09h0M660.98 358.92h0M661.42 361.3h0M661.27 373.9h0M663.64 352.81h0M663.79 372.43h0M661.67 364.27h0M660.67 372.82h0M661.63 358.26h0M663.02 356.58h0M661.11 363.97h0M660.74 363.69h0M662.4 355.79h0M663.18 370.26h0M662.53 367.71h0M662.25 360.17h0M660.83 362.64h0M662.47 359.65h0M661.7 358.86h0M661.06 354.06h0M661.08 370.27h0M663.36 368.66h0M663.47 359.65h0M660.82 357.77h0M663.49 362.7h0M662.32 368.89h0M660.9 368.25h0M662.32 357.59h0M662.22 363.08h0M661.87 358.69h0M661.19 365.98h0M663.46 366.16h0M662.21 366.27h0M663.71 363.2h0M662.16 361.29h0M662.84 364.73h0M661.28 352.38h0M661.4 362.15h0M660.61 357.66h0M661.49 354.8h0M663.53 367.98h0M661.3 370.96h0M662.52 367.31h0M660.71 364.75h0M661.34 350.19h0M660.64 344.15h0M662.6 349.21h0M661.66 357.05h0M663.26 348.83h0M660.54 345.15h0M663.7 366.31h0M660.8 355.39h0M661.33 366.32h0M661.01 360.96h0M661.67 350.5h0M661.25 365.43h0M661.63 366.14h0M663.19 358.13h0M663.15 353.11h0M663.59 363.31h0M661.18 362.25h0M662.63 351.1h0M660.81 369.88h0M662.94 350.89h0M663.78 359.45h0M662.79 365.9h0M663.32 362.03h0M663.69 357.97h0M663.33 372.76h0M663.23 354.92h0M663.31 355.15h0M663.17 357.68h0M663.77 366.66h0M662.31 357.4h0M663.79 365.78h0M663.18 360.87h0M661.29 361.96h0M661.17 376.98h0M662.17 356.64h0M663.59 363.64h0M661.83 357.32h0M663.17 350.91h0M663.7 365.34h0M663.31 350.82h0M662.72 359.39h0M663.34 363.99h0M663.34 356.58h0M663.2 370.98h0M660.56 371.15h0M660.88 362.4h0M662.56 365.24h0M662.06 354.67h0M661.7 359.4h0M663.37 366.78h0M660.8 357.42h0M661.42 357.75h0M662.01 388.35h0" stroke="#1f77b4" stroke-width="1.1" stroke-linecap="round" opacity="0.75"/>
<rect x="667.4" y="344.3" width="3.2" height="35.7" rx="1.6" ry="5" fill="url(#go)"/>
<path d="M667.71 353.34h0M669.62 348.07h0M667.93 378.61h0M668.22 366.54h0M668.06 370.53h0M670.33 359.87h0M668.64 347.23h0M669 349.77h0M670.66 372.62h0M667.94 359.17h0M669.09 364.79h0M667.3 357.39h0M668.85 372.12h0M670.05 381.82h0M667.64 362.11h0M669.18 370.68h0M668.58 369.28h0M670.46 353.78h0M667.56 372.8h0M669.42 353.76h0M668.53 340.52h0M669.55 370.08h0M669.08 356.14h0M669.6 355.6h0M668.54 371.12h0M670.62 356.23h0M669.62 378.42h0M669.2 368.24h0M670.33 347.7h0M669.78 367.07h0M668.41 362.15h0M667.77 359.7h0M667.79 380.6h0M669.3 356.53h0M668.63 359.64h0M669.84 360.84h0M669.89 357.47h0M668.29 356.38h0M670.63 352.95h0M669.51 359.52h0M668.59 366.8h0M670.57 349.21h0M668.24 358.64h0M667.85 348.57h0M670 346.91h0M668.48 354.36h0M670.28 369.19h0M667.85 370.64h0M668.36 361.74h0M667.48 356.56h0M670.59 359.5h0M670.57 370.75h0M670.51 365.18h0M667.97 369.42h0M667.67 357.91h0M668.18 371.02h0M670.58 355.05h0M668.21 367.73h0M668.83 367.86h0M670.15 381.35h0M668.37 351.8h0M667.82 350.09h0M669.2 362.61h0M669.58 351.84h0M668.53 362.27h0M670.42 354.8h0M669.44 354.73h0M668.18 360.77h0M670.11 362.51h0M669.23 359.51h0M668.2 348.99h0M668.13 379.42h0M669.86 372.6h0M669.61 367.06h0M667.68 347.96h0M668.34 370.82h0M669.46 347.45h0M669.65 343.25h0M670.5 363.56h0M669.82 353.09h0M670.04 357.17h0M668.49 369.81h0M669.11 369.44h0M669.07 379.21h0M667.75 352.59h0M668.45 344.91h0M669.01 370.8h0M670.2 365.96h0M668.67 356.21h0M669.25 351.7h0M669.98 359.52h0M670.15 379.62h0M669.86 370.1h0M669 373.26h0M669.83 377.88h0M670.09 350.47h0M667.75 350.99h0M669.69 347.02h0M668.24 358.54h0M667.53 350.08h0M668.23 348.55h0M668.02 351.83h0M669.6 362.81h0M670.61 366.16h0M669.68 364.93h0M667.55 353.97h0M667.31 366.44h0M669.44 355.26h0M667.5 366.87h0M668.82 367.77h0M669.98 338.28h0M670.05 404.02h0" stroke="#ff7f0e" stroke-width="1.1" stroke-linecap="round" opacity="0.75"/>
<rect x="676.9" y="344.3" width="3.2" height="37.1" rx="1.6" ry="5" fill="url(#gb)"/>
<path d="M678.94 368.06h0M677.96 367.19h0M677.54 356.84h0M679.5 373.62h0M679.55 367.49h0M678.63 380.44h0M676.9 379.05h0M678.52 365.99h0M678.94 359.8h0M679.26 364.43h0M678.54 354.57h0M678.8 357.96h0M680.19 365.69h0M679.53 381.77h0M680.15 371.1h0M677.04 360.8h0M678.34 357.8h0M679.12 363.56h0M677.96 360.14h0M677.45 352.73h0M677.46 356.5h0M679.3 367.29h0M677.47 352.68h0M679.19 361.81h0M678.7 365.31h0M679.18 369.91h0M680.02 378.41h0M679.93 360.19h0M677.01 360.25h0M677.5 347.91h0M679.25 381.77h0M678.94 364.4h0M677.36 362.08h0M678.95 371.73h0M676.95 370.97h0M677.4 362.41h0M679.54 350.34h0M678.35 378.92h0M677.32 366.47h0M679.44 365.56h0M679.9 368.07h0M679.59 365.85h0M677.24 352.46h0M678.53 372.34h0M677.51 370.59h0M679.89 362.83h0M679.21 364.82h0M678.28 353.85h0M679.56 361.82h0M679.66 353.54h0M677.53 363.87h0M678.79 363.99h0M679.62 361.92h0M679.47 363.74h0M679.82 360.09h0M678.62 363.49h0M678.92 370.44h0M679.81 366.48h0M677.5 349.33h0M677.63 364.17h0M677.15 370.6h0M678.81 357.64h0M678.35 367.31h0M678.79 367.38h0M678.29 353.09h0M677.03 351.58h0M678.4 362.34h0M678.16 359.73h0M677.62 355.84h0M679.01 349.54h0M677.28 359.02h0M679.89 352.81h0M677.61 360.07h0M680.16 360.85h0M679.48 364.12h0M679.6 372.26h0M676.93 352.42h0M677.12 351.18h0M676.93 379.8h0M676.97 360.29h0M677.55 364.17h0M679.08 384.79h0M679.93 375.14h0M677.69 357.1h0M679.37 363.89h0M677.15 364.35h0M677.44 377.61h0M679.54 360.34h0M677.16 368.79h0M679.48 372.58h0M676.81 379.15h0M679.69 349.31h0M678.51 346.27h0M678.91 356.78h0M677.06 348.72h0M676.98 353.3h0M678.15 355.28h0M676.83 360.63h0M679.62 362.78h0M679.56 360.75h0M679.01 358.16h0M677.5 364.12h0M680.12 358.7h0M678.66 364.83h0M679.28 360.31h0M679.69 366.23h0M678.05 365.4h0M677.83 359.26h0M677.37 338.29h0M680.03 337.82h0M676.92 388.38h0" stroke="#1f77b4" stroke-width="1.1" stroke-linecap="round" opacity="0.75"/>
<rect x="683.7" y="351.1" width="3.2" height="24.8" rx="1.6" ry="5" fill="url(#go)"/>
<path d="M685.95 366.28h0M685.64 364.92h0M684.99 356.54h0M685.68 362.62h0M686.09 355.07h0M686.31 352.11h0M686.04 373.85h0M683.7 357.19h0M685.06 358.29h0M686.59 352.26h0M685.1 369.99h0M686 377.25h0M684.78 363.41h0M684.7 368.88h0M686.93 369.2h0M685.82 367.36h0M686.45 373.32h0M686.98 359.05h0M684.45 363.59h0M685 358.41h0M686.61 368.07h0M686.73 364.1h0M686.23 358.32h0M686.63 373.1h0M683.96 365.67h0M686.41 355.97h0M684.85 360.02h0M685.43 371.73h0M685.41 367.18h0M685.81 362.69h0M684.99 348.94h0M686.71 359.92h0M683.9 357.35h0M684.32 348.03h0M683.65 360.28h0M684.48 376.96h0M684.2 359.4h0M685.95 354.54h0M686.14 367.18h0M684.47 363.59h0M683.69 358.69h0M684.48 361.93h0M686.88 359.44h0M685.83 358.22h0M685.63 356.84h0M683.82 361.66h0M683.83 358.41h0M684.08 369.5h0M683.98 364.05h0M685.94 346.71h0M684.53 364.17h0M683.94 363.98h0M684.63 359.55h0M685.11 355.32h0M686.08 368.77h0M684.76 375.71h0M686.43 371.78h0M684.37 375.22h0M686.51 365.79h0M684.54 366.59h0M683.63 354.54h0M684.14 368.58h0M685.84 376.32h0M684.21 355.51h0M684.09 358.64h0M684.9 378.35h0M685.82 373.88h0M683.82 359.41h0M683.65 361.59h0M686.87 365.52h0M684.84 360.82h0M686.28 362.91h0M684.46 360.08h0M683.98 358.34h0M684.44 369.26h0M684.89 364.98h0M686.2 358.5h0M684.34 364.18h0M684.91 367.62h0M685.2 357.46h0M686.56 370.32h0M686.44 372.42h0M684.4 366.43h0M683.99 370.21h0M685.16 364.75h0M684 362.82h0M685.23 360.76h0M685.1 365.62h0M684 367.59h0M685.2 368.98h0M686.78 365.99h0M684.36 361.19h0M686.13 362.67h0M686.87 351.64h0M686.52 358.55h0M685.38 375.25h0M684.42 373.23h0M684.32 369.58h0M683.88 374.67h0M685.17 362.11h0M686.09 377.87h0M684.68 369.74h0M684.3 366.65h0M684.01 360.37h0M686.95 358.36h0M683.64 359.52h0M685.82 363.96h0M685.2 362.09h0M686.12 363.37h0M684.45 317.36h0M685.64 316.73h0M684.16 319.24h0M686.73 321.76h0M686.44 320.72h0M686.59 314.57h0M684.43 311.5h0M686.59 382.6h0" stroke="#ff7f0e" stroke-width="1.1" stroke-linecap="round" opacity="0.75"/>
<rect x="693.2" y="338.8" width="3.2" height="44" rx="1.6" ry="5" fill="url(#gb)"/>
<path d="M693.22 367.67h0M694.59 364.69h0M695.65 365.47h0M695.08 366.48h0M695.41 371.42h0M693.14 356.55h0M694.72 368.59h0M694.84 358.18h0M696.47 373.25h0M695.21 356.61h0M693.79 365.28h0M696.5 381.7h0M696.37 353.02h0M694.19 362.98h0M695.37 352.17h0M693.18 366.51h0M695.92 356.09h0M693.1 365.58h0M694.64 354h0M695.01 355.35h0M693.92 359.34h0M693.51 354.84h0M693.57 367.01h0M694.88 359.22h0M693.29 340.28h0M693.9 349.28h0M694.64 368.22h0M694.49 373.81h0M696.02 373.49h0M696.35 350.08h0M694.49 357.6h0M693.28 387.53h0M693.16 365.35h0M694.08 358.1h0M696.06 353.66h0M695.99 348.66h0M695.84 367.47h0M693.5 353.08h0M693.93 349.69h0M695.82 352.62h0M696.16 348.24h0M693.36 367.98h0M696.15 359.07h0M695.45 354.34h0M693.97 357.75h0M694.88 361.71h0M695.4 371.54h0M695.22 377.41h0M694.7 369.06h0M693.13 351.29h0M694.72 342.95h0M695.3 353.04h0M693.71 344.86h0M693.89 379.93h0M694.56 355.69h0M694.49 368.22h0M696.37 358.79h0M695.6 367.44h0M694.32 355.98h0M693.53 350.83h0M693.86 344.33h0M693.22 362.74h0M693.56 369.46h0M693.36 351h0M695.08 367.36h0M694.31 374.64h0M695.5 355.56h0M694.74 354.33h0M693.16 363.49h0M694.36 357.8h0M696.37 354.83h0M695.28 363.06h0M695.26 339.48h0M693.77 352.58h0M693.97 361.77h0M695.89 351.3h0M696.08 343.12h0M695.1 347.77h0M694.92 361.43h0M695.57 362.66h0M693.12 360.2h0M693.69 365.06h0M693.88 360.47h0M694 359.86h0M693.17 352.74h0M696.4 380.65h0M693.61 378.13h0M694.19 353.79h0M694.52 372.59h0M693.29 352.15h0M693.39 361.96h0M695.22 363.38h0M695.47 365.01h0M695.58 359.18h0M694.26 380.72h0M696.26 353.52h0M695.01 361.18h0M695.45 366.99h0M694.41 362.86h0M695.81 359.12h0M695.83 352.83h0M693.75 373.24h0M695.51 369.16h0M693.89 367.45h0M693.42 341.97h0M693.57 353.27h0M693.76 348.34h0M693.55 333.49h0M693.97 333.8h0M694.56 331.55h0M695.52 395.66h0M695.52 385.62h0M694.13 389.42h0M695.41 397.8h0M696.09 397.29h0M694.2 419.96h0" stroke="#1f77b4" stroke-width="1.1" stroke-linecap="round" opacity="0.75"/>
<rect x="700" y="341.5" width="3.2" height="44" rx="1.6" ry="5" fill="url(#go)"/>
<path d="M700.43 358.92h0M700.67 356.02h0M702.34 366.32h0M703.16 342.56h0M700.97 366.17h0M702.35 354.16h0M700.2 378.03h0M700.07 368.8h0M703.07 357.06h0M702.88 362.94h0M700.31 356.23h0M701.62 365.28h0M702.34 352.88h0M701.7 362.07h0M700.14 364.35h0M701.22 358.22h0M702.17 354.94h0M700.65 364.39h0M702.32 358.16h0M702.52 375.18h0M703.05 355h0M703.08 372.36h0M701.45 359.6h0M702.07 359.89h0M703.24 362.94h0M702.99 366.56h0M702.01 372.21h0M700.92 372.65h0M702.52 380.59h0M701.39 371.35h0M700.22 373.19h0M703.18 369.29h0M702.51 372.32h0M700.36 366.44h0M700.46 366.89h0M701.71 366.18h0M700.49 366.92h0M702.5 357.55h0M700.32 354.35h0M700.73 368.11h0M700.78 369.04h0M702.42 362.51h0M701.51 382.5h0M703.15 348.13h0M701.48 356.11h0M702.33 357.84h0M700.56 362.9h0M703.16 357.58h0M701.05 379.67h0M700.74 376.38h0M703.27 363.09h0M700.4 376.19h0M700.49 369.56h0M702.43 355.63h0M701.32 359.54h0M702.69 369.6h0M699.94 373.12h0M702.5 352.31h0M703.14 344.54h0M701.01 348.5h0M700.8 375.6h0M701.14 346.51h0M701.19 356.07h0M700.27 370.96h0M701.3 367.04h0M702.06 387.98h0M700.73 377.88h0M703.03 351.18h0M702.38 375.01h0M700.76 364.13h0M702.13 342.85h0M700.35 347.7h0M701.73 378.21h0M701.07 352.69h0M702.77 381.41h0M700.37 376.87h0M703.09 344.57h0M702.12 362.89h0M700.06 346.55h0M701.45 373.24h0M701.05 353.15h0M702.86 367.54h0M700.63 344.22h0M700.24 358.9h0M701.01 370.7h0M700.67 383.37h0M700.14 366.77h0M700.57 380.4h0M701.47 371.15h0M703.14 346.93h0M700.95 375.25h0M701.5 347.37h0M702.96 345.81h0M702.87 362.51h0M701.85 353.8h0M702.72 375.31h0M701.66 372.77h0M702.89 351.85h0M702.16 364.67h0M701.14 366.3h0M703.16 373.83h0M703.01 361.56h0M700.02 358.01h0M702.34 353.4h0M701.36 357.01h0M702.69 374.99h0M702.58 371.03h0M702.43 358.53h0M702.63 369.77h0M702.83 321.29h0M701.39 332.89h0M702.27 323.71h0M700.65 331.95h0M701.05 322.53h0M700.6 328.98h0M701.6 326.2h0M700.46 328.03h0M703.2 332.35h0" stroke="#ff7f0e" stroke-width="1.1" stroke-linecap="round" opacity="0.75"/>
</g>
<rect x="543.3" y="303.4" width="163.3" height="121.6" fill="none" stroke="#6a6a6a" stroke-width="0.9"/>
<rect x="293.9" y="343.7" width="150" height="60.6" rx="5.2" fill="#fff" stroke="#1e1e1e" stroke-width="1.3"/>
<text x="297.7" y="362.4" font-size="14.4" textLength="48.9" lengthAdjust="spacingAndGlyphs" fill="#333">Method</text>
<rect x="297.6" y="368.8" width="32.4" height="12.4" fill="#1f77b4" stroke="#333" stroke-width="0.8"/>
<rect x="297.6" y="385.6" width="32.4" height="12.4" fill="#ff7f0e" stroke="#333" stroke-width="0.8"/>
<text x="335.3" y="379.8" font-size="12.6" textLength="58.3" lengthAdjust="spacingAndGlyphs" fill="#333">HCat-GNet</text>
<text x="335.3" y="395.3" font-size="12.6" textLength="98" lengthAdjust="spacingAndGlyphs" fill="#333">Gradient Boosting</text>
</svg></body></html>
